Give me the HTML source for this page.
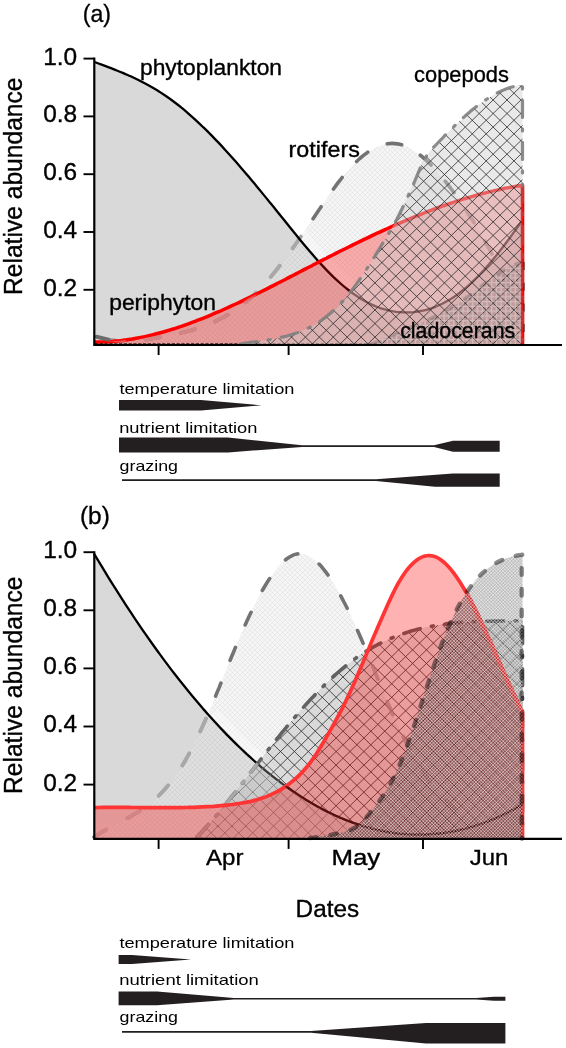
<!DOCTYPE html>
<html><head><meta charset="utf-8"><title>Plankton succession</title>
<style>
html,body{margin:0;padding:0;background:#fff;}
body{width:566px;height:1048px;overflow:hidden;}
svg{display:block;will-change:transform;}
text{font-family:"Liberation Sans",sans-serif;fill:#000;stroke:#000;stroke-width:0.35px;}
.lim text{stroke-width:0;}
</style></head><body>
<svg width="566" height="1048" viewBox="0 0 566 1048">
<defs>
<pattern id="fine" width="20" height="20" patternUnits="userSpaceOnUse"><path d="M-20.00,0 L0.00,20 M-20.00,0 L-40.00,20 M-15.00,0 L5.00,20 M-15.00,0 L-35.00,20 M-10.00,0 L10.00,20 M-10.00,0 L-30.00,20 M-5.00,0 L15.00,20 M-5.00,0 L-25.00,20 M0.00,0 L20.00,20 M0.00,0 L-20.00,20 M5.00,0 L25.00,20 M5.00,0 L-15.00,20 M10.00,0 L30.00,20 M10.00,0 L-10.00,20 M15.00,0 L35.00,20 M15.00,0 L-5.00,20 M20.00,0 L40.00,20 M20.00,0 L0.00,20 M25.00,0 L45.00,20 M25.00,0 L5.00,20 M30.00,0 L50.00,20 M30.00,0 L10.00,20 M35.00,0 L55.00,20 M35.00,0 L15.00,20 M40.00,0 L60.00,20 M40.00,0 L20.00,20" stroke="#000" stroke-opacity="0.045" stroke-width="1" fill="none"/></pattern>
<pattern id="whatch" width="17" height="17" patternUnits="userSpaceOnUse"><path d="M-17.00,0 L0.00,17 M-17.00,0 L-34.00,17 M-13.60,0 L3.40,17 M-13.60,0 L-30.60,17 M-10.20,0 L6.80,17 M-10.20,0 L-27.20,17 M-6.80,0 L10.20,17 M-6.80,0 L-23.80,17 M-3.40,0 L13.60,17 M-3.40,0 L-20.40,17 M0.00,0 L17.00,17 M0.00,0 L-17.00,17 M3.40,0 L20.40,17 M3.40,0 L-13.60,17 M6.80,0 L23.80,17 M6.80,0 L-10.20,17 M10.20,0 L27.20,17 M10.20,0 L-6.80,17 M13.60,0 L30.60,17 M13.60,0 L-3.40,17 M17.00,0 L34.00,17 M17.00,0 L0.00,17 M20.40,0 L37.40,17 M20.40,0 L3.40,17 M23.80,0 L40.80,17 M23.80,0 L6.80,17 M27.20,0 L44.20,17 M27.20,0 L10.20,17 M30.60,0 L47.60,17 M30.60,0 L13.60,17 M34.00,0 L51.00,17 M34.00,0 L17.00,17" stroke="#fff" stroke-opacity="0.55" stroke-width="0.9" fill="none"/></pattern>
<pattern id="wgrid" width="19" height="19" patternUnits="userSpaceOnUse"><path d="M0,2.38 H19 M2.38,0 V19 M0,7.12 H19 M7.12,0 V19 M0,11.88 H19 M11.88,0 V19 M0,16.62 H19 M16.62,0 V19" stroke="#fff" stroke-opacity="0.3" stroke-width="1.4" fill="none"/></pattern>
</defs>
<rect width="566" height="1048" fill="#fff"/>
<!-- panel a -->
<clipPath id="cpa"><path d="M94.4,62.0 C95.6,62.4 99.2,63.7 101.7,64.6 C104.1,65.5 106.5,66.4 108.9,67.3 C111.3,68.2 113.7,69.2 116.2,70.2 C118.6,71.1 121.0,72.1 123.4,73.1 C125.8,74.2 128.3,75.2 130.7,76.3 C133.1,77.5 135.5,78.6 137.9,79.8 C140.4,81.0 142.8,82.2 145.2,83.5 C147.6,84.8 150.0,86.1 152.4,87.5 C154.9,89.0 157.3,90.4 159.7,91.9 C162.1,93.5 164.5,95.1 167.0,96.8 C169.4,98.4 171.8,100.2 174.2,102.0 C176.6,103.8 179.1,105.7 181.5,107.7 C183.9,109.6 186.3,111.7 188.7,113.8 C191.1,115.9 193.6,118.1 196.0,120.3 C198.4,122.5 200.8,124.8 203.2,127.2 C205.7,129.5 208.1,131.9 210.5,134.4 C212.9,136.8 215.3,139.3 217.8,141.9 C220.2,144.4 222.6,147.0 225.0,149.7 C227.4,152.3 229.8,155.0 232.3,157.7 C234.7,160.5 237.1,163.2 239.5,166.0 C241.9,168.8 244.4,171.6 246.8,174.5 C249.2,177.3 251.6,180.2 254.0,183.1 C256.4,186.0 258.9,188.9 261.3,191.9 C263.7,194.8 266.1,197.8 268.5,200.8 C271.0,203.7 273.4,206.7 275.8,209.7 C278.2,212.7 280.6,215.7 283.1,218.7 C285.5,221.7 287.9,224.8 290.3,227.8 C292.7,230.8 295.1,233.8 297.6,236.7 C300.0,239.7 302.4,242.6 304.8,245.5 C307.2,248.4 309.7,251.3 312.1,254.1 C314.5,256.9 316.9,259.6 319.3,262.3 C321.8,265.0 324.2,267.6 326.6,270.1 C329.0,272.6 331.4,275.0 333.8,277.4 C336.3,279.7 338.7,281.9 341.1,284.0 C343.5,286.1 345.9,288.1 348.4,290.0 C350.8,291.9 353.2,293.7 355.6,295.3 C358.0,297.0 360.5,298.6 362.9,300.0 C365.3,301.4 367.7,302.7 370.1,303.9 C372.5,305.1 375.0,306.1 377.4,307.0 C379.8,308.0 382.2,308.8 384.6,309.4 C387.1,310.1 389.5,310.7 391.9,311.1 C394.3,311.5 396.7,311.9 399.1,312.1 C401.6,312.3 404.0,312.4 406.4,312.4 C408.8,312.4 411.2,312.3 413.7,312.1 C416.1,311.8 418.5,311.5 420.9,311.0 C423.3,310.5 425.8,310.0 428.2,309.3 C430.6,308.6 433.0,307.7 435.4,306.8 C437.8,305.8 440.3,304.7 442.7,303.5 C445.1,302.3 447.5,300.9 449.9,299.5 C452.4,298.0 454.8,296.4 457.2,294.6 C459.6,292.8 462.0,290.9 464.5,288.9 C466.9,286.9 469.3,284.7 471.7,282.5 C474.1,280.2 476.5,277.8 479.0,275.3 C481.4,272.7 483.8,270.1 486.2,267.4 C488.6,264.7 491.1,261.8 493.5,258.9 C495.9,256.0 498.3,253.0 500.7,249.9 C503.2,246.8 505.6,243.6 508.0,240.3 C510.4,237.1 512.8,233.8 515.2,230.4 C517.7,227.0 521.3,221.7 522.5,220.0 L522.5,345.0 L94.4,345.0 Z"/></clipPath>
<path d="M94.4,62.0 C95.6,62.4 99.2,63.7 101.7,64.6 C104.1,65.5 106.5,66.4 108.9,67.3 C111.3,68.2 113.7,69.2 116.2,70.2 C118.6,71.1 121.0,72.1 123.4,73.1 C125.8,74.2 128.3,75.2 130.7,76.3 C133.1,77.5 135.5,78.6 137.9,79.8 C140.4,81.0 142.8,82.2 145.2,83.5 C147.6,84.8 150.0,86.1 152.4,87.5 C154.9,89.0 157.3,90.4 159.7,91.9 C162.1,93.5 164.5,95.1 167.0,96.8 C169.4,98.4 171.8,100.2 174.2,102.0 C176.6,103.8 179.1,105.7 181.5,107.7 C183.9,109.6 186.3,111.7 188.7,113.8 C191.1,115.9 193.6,118.1 196.0,120.3 C198.4,122.5 200.8,124.8 203.2,127.2 C205.7,129.5 208.1,131.9 210.5,134.4 C212.9,136.8 215.3,139.3 217.8,141.9 C220.2,144.4 222.6,147.0 225.0,149.7 C227.4,152.3 229.8,155.0 232.3,157.7 C234.7,160.5 237.1,163.2 239.5,166.0 C241.9,168.8 244.4,171.6 246.8,174.5 C249.2,177.3 251.6,180.2 254.0,183.1 C256.4,186.0 258.9,188.9 261.3,191.9 C263.7,194.8 266.1,197.8 268.5,200.8 C271.0,203.7 273.4,206.7 275.8,209.7 C278.2,212.7 280.6,215.7 283.1,218.7 C285.5,221.7 287.9,224.8 290.3,227.8 C292.7,230.8 295.1,233.8 297.6,236.7 C300.0,239.7 302.4,242.6 304.8,245.5 C307.2,248.4 309.7,251.3 312.1,254.1 C314.5,256.9 316.9,259.6 319.3,262.3 C321.8,265.0 324.2,267.6 326.6,270.1 C329.0,272.6 331.4,275.0 333.8,277.4 C336.3,279.7 338.7,281.9 341.1,284.0 C343.5,286.1 345.9,288.1 348.4,290.0 C350.8,291.9 353.2,293.7 355.6,295.3 C358.0,297.0 360.5,298.6 362.9,300.0 C365.3,301.4 367.7,302.7 370.1,303.9 C372.5,305.1 375.0,306.1 377.4,307.0 C379.8,308.0 382.2,308.8 384.6,309.4 C387.1,310.1 389.5,310.7 391.9,311.1 C394.3,311.5 396.7,311.9 399.1,312.1 C401.6,312.3 404.0,312.4 406.4,312.4 C408.8,312.4 411.2,312.3 413.7,312.1 C416.1,311.8 418.5,311.5 420.9,311.0 C423.3,310.5 425.8,310.0 428.2,309.3 C430.6,308.6 433.0,307.7 435.4,306.8 C437.8,305.8 440.3,304.7 442.7,303.5 C445.1,302.3 447.5,300.9 449.9,299.5 C452.4,298.0 454.8,296.4 457.2,294.6 C459.6,292.8 462.0,290.9 464.5,288.9 C466.9,286.9 469.3,284.7 471.7,282.5 C474.1,280.2 476.5,277.8 479.0,275.3 C481.4,272.7 483.8,270.1 486.2,267.4 C488.6,264.7 491.1,261.8 493.5,258.9 C495.9,256.0 498.3,253.0 500.7,249.9 C503.2,246.8 505.6,243.6 508.0,240.3 C510.4,237.1 512.8,233.8 515.2,230.4 C517.7,227.0 521.3,221.7 522.5,220.0 L522.5,345.0 L94.4,345.0 Z" fill="#d9d9d9"/>
<path d="M94.0,336.4 C94.9,336.7 97.6,337.5 99.4,337.9 C101.2,338.3 103.0,338.7 104.8,339.1 C106.7,339.4 108.5,339.7 110.3,339.9 C112.1,340.1 113.9,340.3 115.7,340.5 C117.5,340.6 119.3,340.7 121.1,340.8 C122.9,340.8 124.7,340.8 126.5,340.8 C128.4,340.8 130.2,340.7 132.0,340.6 C133.8,340.6 135.6,340.4 137.4,340.3 C139.2,340.1 141.0,340.0 142.8,339.8 C144.6,339.6 146.4,339.3 148.2,339.1 C150.0,338.8 151.9,338.6 153.7,338.3 C155.5,338.0 157.3,337.7 159.1,337.4 C160.9,337.0 162.7,336.7 164.5,336.4 C166.3,336.0 168.1,335.7 169.9,335.3 C171.7,335.0 173.6,334.6 175.4,334.2 C177.2,333.8 179.0,333.4 180.8,333.0 C182.6,332.6 184.4,332.1 186.2,331.7 C188.0,331.2 189.8,330.7 191.6,330.2 C193.4,329.7 195.2,329.1 197.1,328.5 C198.9,327.9 200.7,327.3 202.5,326.7 C204.3,326.0 206.1,325.3 207.9,324.6 C209.7,323.9 211.5,323.1 213.3,322.3 C215.1,321.5 216.9,320.6 218.8,319.7 C220.6,318.8 222.4,317.9 224.2,316.8 C226.0,315.8 227.8,314.8 229.6,313.7 C231.4,312.5 233.2,311.4 235.0,310.1 C236.8,308.9 238.6,307.6 240.4,306.2 C242.3,304.9 244.1,303.5 245.9,302.0 C247.7,300.5 249.5,298.9 251.3,297.3 C253.1,295.6 254.9,293.9 256.7,292.2 C258.5,290.4 260.3,288.5 262.1,286.6 C264.0,284.7 265.8,282.6 267.6,280.6 C269.4,278.5 271.2,276.4 273.0,274.2 C274.8,272.0 276.6,269.7 278.4,267.4 C280.2,265.1 282.0,262.8 283.8,260.4 C285.6,258.0 287.5,255.5 289.3,253.0 C291.1,250.5 292.9,248.0 294.7,245.5 C296.5,242.9 298.3,240.3 300.1,237.7 C301.9,235.1 303.7,232.5 305.5,229.8 C307.3,227.2 309.2,224.5 311.0,221.8 C312.8,219.1 314.6,216.4 316.4,213.7 C318.2,211.0 320.0,208.3 321.8,205.7 C323.6,203.0 325.4,200.4 327.2,197.8 C329.0,195.2 330.9,192.6 332.7,190.1 C334.5,187.6 336.3,185.1 338.1,182.7 C339.9,180.4 341.7,178.1 343.5,175.8 C345.3,173.6 347.1,171.5 348.9,169.5 C350.7,167.4 352.5,165.5 354.4,163.7 C356.2,161.9 358.0,160.1 359.8,158.5 C361.6,157.0 363.4,155.5 365.2,154.1 C367.0,152.7 368.8,151.5 370.6,150.4 C372.4,149.3 374.2,148.3 376.1,147.4 C377.9,146.5 379.7,145.8 381.5,145.2 C383.3,144.6 385.1,144.2 386.9,143.9 C388.7,143.6 390.5,143.4 392.3,143.4 C394.1,143.4 395.9,143.6 397.7,143.9 C399.6,144.2 401.4,144.7 403.2,145.3 C405.0,145.9 406.8,146.7 408.6,147.6 C410.4,148.5 412.2,149.5 414.0,150.7 C415.8,151.8 417.6,153.1 419.4,154.5 C421.3,155.9 423.1,157.4 424.9,159.1 C426.7,160.7 428.5,162.4 430.3,164.3 C432.1,166.1 433.9,168.0 435.7,170.0 C437.5,172.0 439.3,174.1 441.1,176.2 C442.9,178.4 444.8,180.6 446.6,182.9 C448.4,185.2 450.2,187.6 452.0,190.0 C453.8,192.4 455.6,194.9 457.4,197.5 C459.2,200.0 461.0,202.6 462.8,205.3 C464.6,208.0 466.5,210.7 468.3,213.5 C470.1,216.3 471.9,219.1 473.7,222.0 C475.5,224.9 477.3,227.9 479.1,231.0 C480.9,234.0 482.7,237.1 484.5,240.3 C486.3,243.5 488.1,246.8 490.0,250.2 C491.8,253.6 493.6,257.0 495.4,260.6 C497.2,264.1 499.0,267.8 500.8,271.5 C502.6,275.3 504.4,279.1 506.2,283.1 C508.0,287.1 509.8,291.2 511.7,295.4 C513.5,299.6 515.3,303.9 517.1,308.3 C518.9,312.8 521.6,319.7 522.5,322.0 L522.5,345.0 L94.0,345.0 Z" fill="rgba(231,231,231,0.42)"/>
<path d="M94.0,336.4 C94.9,336.7 97.6,337.5 99.4,337.9 C101.2,338.3 103.0,338.7 104.8,339.1 C106.7,339.4 108.5,339.7 110.3,339.9 C112.1,340.1 113.9,340.3 115.7,340.5 C117.5,340.6 119.3,340.7 121.1,340.8 C122.9,340.8 124.7,340.8 126.5,340.8 C128.4,340.8 130.2,340.7 132.0,340.6 C133.8,340.6 135.6,340.4 137.4,340.3 C139.2,340.1 141.0,340.0 142.8,339.8 C144.6,339.6 146.4,339.3 148.2,339.1 C150.0,338.8 151.9,338.6 153.7,338.3 C155.5,338.0 157.3,337.7 159.1,337.4 C160.9,337.0 162.7,336.7 164.5,336.4 C166.3,336.0 168.1,335.7 169.9,335.3 C171.7,335.0 173.6,334.6 175.4,334.2 C177.2,333.8 179.0,333.4 180.8,333.0 C182.6,332.6 184.4,332.1 186.2,331.7 C188.0,331.2 189.8,330.7 191.6,330.2 C193.4,329.7 195.2,329.1 197.1,328.5 C198.9,327.9 200.7,327.3 202.5,326.7 C204.3,326.0 206.1,325.3 207.9,324.6 C209.7,323.9 211.5,323.1 213.3,322.3 C215.1,321.5 216.9,320.6 218.8,319.7 C220.6,318.8 222.4,317.9 224.2,316.8 C226.0,315.8 227.8,314.8 229.6,313.7 C231.4,312.5 233.2,311.4 235.0,310.1 C236.8,308.9 238.6,307.6 240.4,306.2 C242.3,304.9 244.1,303.5 245.9,302.0 C247.7,300.5 249.5,298.9 251.3,297.3 C253.1,295.6 254.9,293.9 256.7,292.2 C258.5,290.4 260.3,288.5 262.1,286.6 C264.0,284.7 265.8,282.6 267.6,280.6 C269.4,278.5 271.2,276.4 273.0,274.2 C274.8,272.0 276.6,269.7 278.4,267.4 C280.2,265.1 282.0,262.8 283.8,260.4 C285.6,258.0 287.5,255.5 289.3,253.0 C291.1,250.5 292.9,248.0 294.7,245.5 C296.5,242.9 298.3,240.3 300.1,237.7 C301.9,235.1 303.7,232.5 305.5,229.8 C307.3,227.2 309.2,224.5 311.0,221.8 C312.8,219.1 314.6,216.4 316.4,213.7 C318.2,211.0 320.0,208.3 321.8,205.7 C323.6,203.0 325.4,200.4 327.2,197.8 C329.0,195.2 330.9,192.6 332.7,190.1 C334.5,187.6 336.3,185.1 338.1,182.7 C339.9,180.4 341.7,178.1 343.5,175.8 C345.3,173.6 347.1,171.5 348.9,169.5 C350.7,167.4 352.5,165.5 354.4,163.7 C356.2,161.9 358.0,160.1 359.8,158.5 C361.6,157.0 363.4,155.5 365.2,154.1 C367.0,152.7 368.8,151.5 370.6,150.4 C372.4,149.3 374.2,148.3 376.1,147.4 C377.9,146.5 379.7,145.8 381.5,145.2 C383.3,144.6 385.1,144.2 386.9,143.9 C388.7,143.6 390.5,143.4 392.3,143.4 C394.1,143.4 395.9,143.6 397.7,143.9 C399.6,144.2 401.4,144.7 403.2,145.3 C405.0,145.9 406.8,146.7 408.6,147.6 C410.4,148.5 412.2,149.5 414.0,150.7 C415.8,151.8 417.6,153.1 419.4,154.5 C421.3,155.9 423.1,157.4 424.9,159.1 C426.7,160.7 428.5,162.4 430.3,164.3 C432.1,166.1 433.9,168.0 435.7,170.0 C437.5,172.0 439.3,174.1 441.1,176.2 C442.9,178.4 444.8,180.6 446.6,182.9 C448.4,185.2 450.2,187.6 452.0,190.0 C453.8,192.4 455.6,194.9 457.4,197.5 C459.2,200.0 461.0,202.6 462.8,205.3 C464.6,208.0 466.5,210.7 468.3,213.5 C470.1,216.3 471.9,219.1 473.7,222.0 C475.5,224.9 477.3,227.9 479.1,231.0 C480.9,234.0 482.7,237.1 484.5,240.3 C486.3,243.5 488.1,246.8 490.0,250.2 C491.8,253.6 493.6,257.0 495.4,260.6 C497.2,264.1 499.0,267.8 500.8,271.5 C502.6,275.3 504.4,279.1 506.2,283.1 C508.0,287.1 509.8,291.2 511.7,295.4 C513.5,299.6 515.3,303.9 517.1,308.3 C518.9,312.8 521.6,319.7 522.5,322.0 L522.5,345.0 L94.0,345.0 Z" fill="url(#fine)"/>
<path d="M94.0,336.4 C94.9,336.7 97.6,337.5 99.4,337.9 C101.2,338.3 103.0,338.7 104.8,339.1 C106.7,339.4 108.5,339.7 110.3,339.9 C112.1,340.1 113.9,340.3 115.7,340.5 C117.5,340.6 119.3,340.7 121.1,340.8 C122.9,340.8 124.7,340.8 126.5,340.8 C128.4,340.8 130.2,340.7 132.0,340.6 C133.8,340.6 135.6,340.4 137.4,340.3 C139.2,340.1 141.0,340.0 142.8,339.8 C144.6,339.6 146.4,339.3 148.2,339.1 C150.0,338.8 151.9,338.6 153.7,338.3 C155.5,338.0 157.3,337.7 159.1,337.4 C160.9,337.0 162.7,336.7 164.5,336.4 C166.3,336.0 168.1,335.7 169.9,335.3 C171.7,335.0 173.6,334.6 175.4,334.2 C177.2,333.8 179.0,333.4 180.8,333.0 C182.6,332.6 184.4,332.1 186.2,331.7 C188.0,331.2 189.8,330.7 191.6,330.2 C193.4,329.7 195.2,329.1 197.1,328.5 C198.9,327.9 200.7,327.3 202.5,326.7 C204.3,326.0 206.1,325.3 207.9,324.6 C209.7,323.9 211.5,323.1 213.3,322.3 C215.1,321.5 216.9,320.6 218.8,319.7 C220.6,318.8 222.4,317.9 224.2,316.8 C226.0,315.8 227.8,314.8 229.6,313.7 C231.4,312.5 233.2,311.4 235.0,310.1 C236.8,308.9 238.6,307.6 240.4,306.2 C242.3,304.9 244.1,303.5 245.9,302.0 C247.7,300.5 249.5,298.9 251.3,297.3 C253.1,295.6 254.9,293.9 256.7,292.2 C258.5,290.4 260.3,288.5 262.1,286.6 C264.0,284.7 265.8,282.6 267.6,280.6 C269.4,278.5 271.2,276.4 273.0,274.2 C274.8,272.0 276.6,269.7 278.4,267.4 C280.2,265.1 282.0,262.8 283.8,260.4 C285.6,258.0 287.5,255.5 289.3,253.0 C291.1,250.5 292.9,248.0 294.7,245.5 C296.5,242.9 298.3,240.3 300.1,237.7 C301.9,235.1 303.7,232.5 305.5,229.8 C307.3,227.2 309.2,224.5 311.0,221.8 C312.8,219.1 314.6,216.4 316.4,213.7 C318.2,211.0 320.0,208.3 321.8,205.7 C323.6,203.0 325.4,200.4 327.2,197.8 C329.0,195.2 330.9,192.6 332.7,190.1 C334.5,187.6 336.3,185.1 338.1,182.7 C339.9,180.4 341.7,178.1 343.5,175.8 C345.3,173.6 347.1,171.5 348.9,169.5 C350.7,167.4 352.5,165.5 354.4,163.7 C356.2,161.9 358.0,160.1 359.8,158.5 C361.6,157.0 363.4,155.5 365.2,154.1 C367.0,152.7 368.8,151.5 370.6,150.4 C372.4,149.3 374.2,148.3 376.1,147.4 C377.9,146.5 379.7,145.8 381.5,145.2 C383.3,144.6 385.1,144.2 386.9,143.9 C388.7,143.6 390.5,143.4 392.3,143.4 C394.1,143.4 395.9,143.6 397.7,143.9 C399.6,144.2 401.4,144.7 403.2,145.3 C405.0,145.9 406.8,146.7 408.6,147.6 C410.4,148.5 412.2,149.5 414.0,150.7 C415.8,151.8 417.6,153.1 419.4,154.5 C421.3,155.9 423.1,157.4 424.9,159.1 C426.7,160.7 428.5,162.4 430.3,164.3 C432.1,166.1 433.9,168.0 435.7,170.0 C437.5,172.0 439.3,174.1 441.1,176.2 C442.9,178.4 444.8,180.6 446.6,182.9 C448.4,185.2 450.2,187.6 452.0,190.0 C453.8,192.4 455.6,194.9 457.4,197.5 C459.2,200.0 461.0,202.6 462.8,205.3 C464.6,208.0 466.5,210.7 468.3,213.5 C470.1,216.3 471.9,219.1 473.7,222.0 C475.5,224.9 477.3,227.9 479.1,231.0 C480.9,234.0 482.7,237.1 484.5,240.3 C486.3,243.5 488.1,246.8 490.0,250.2 C491.8,253.6 493.6,257.0 495.4,260.6 C497.2,264.1 499.0,267.8 500.8,271.5 C502.6,275.3 504.4,279.1 506.2,283.1 C508.0,287.1 509.8,291.2 511.7,295.4 C513.5,299.6 515.3,303.9 517.1,308.3 C518.9,312.8 521.6,319.7 522.5,322.0" fill="none" stroke="#737373" stroke-width="3.6" stroke-dasharray="14.5 21.5" stroke-dashoffset="20" stroke-linecap="round"/>
<g clip-path="url(#cpa)"><path d="M94.0,336.4 C94.9,336.7 97.6,337.5 99.4,337.9 C101.2,338.3 103.0,338.7 104.8,339.1 C106.7,339.4 108.5,339.7 110.3,339.9 C112.1,340.1 113.9,340.3 115.7,340.5 C117.5,340.6 119.3,340.7 121.1,340.8 C122.9,340.8 124.7,340.8 126.5,340.8 C128.4,340.8 130.2,340.7 132.0,340.6 C133.8,340.6 135.6,340.4 137.4,340.3 C139.2,340.1 141.0,340.0 142.8,339.8 C144.6,339.6 146.4,339.3 148.2,339.1 C150.0,338.8 151.9,338.6 153.7,338.3 C155.5,338.0 157.3,337.7 159.1,337.4 C160.9,337.0 162.7,336.7 164.5,336.4 C166.3,336.0 168.1,335.7 169.9,335.3 C171.7,335.0 173.6,334.6 175.4,334.2 C177.2,333.8 179.0,333.4 180.8,333.0 C182.6,332.6 184.4,332.1 186.2,331.7 C188.0,331.2 189.8,330.7 191.6,330.2 C193.4,329.7 195.2,329.1 197.1,328.5 C198.9,327.9 200.7,327.3 202.5,326.7 C204.3,326.0 206.1,325.3 207.9,324.6 C209.7,323.9 211.5,323.1 213.3,322.3 C215.1,321.5 216.9,320.6 218.8,319.7 C220.6,318.8 222.4,317.9 224.2,316.8 C226.0,315.8 227.8,314.8 229.6,313.7 C231.4,312.5 233.2,311.4 235.0,310.1 C236.8,308.9 238.6,307.6 240.4,306.2 C242.3,304.9 244.1,303.5 245.9,302.0 C247.7,300.5 249.5,298.9 251.3,297.3 C253.1,295.6 254.9,293.9 256.7,292.2 C258.5,290.4 260.3,288.5 262.1,286.6 C264.0,284.7 265.8,282.6 267.6,280.6 C269.4,278.5 271.2,276.4 273.0,274.2 C274.8,272.0 276.6,269.7 278.4,267.4 C280.2,265.1 282.0,262.8 283.8,260.4 C285.6,258.0 287.5,255.5 289.3,253.0 C291.1,250.5 292.9,248.0 294.7,245.5 C296.5,242.9 298.3,240.3 300.1,237.7 C301.9,235.1 303.7,232.5 305.5,229.8 C307.3,227.2 309.2,224.5 311.0,221.8 C312.8,219.1 314.6,216.4 316.4,213.7 C318.2,211.0 320.0,208.3 321.8,205.7 C323.6,203.0 325.4,200.4 327.2,197.8 C329.0,195.2 330.9,192.6 332.7,190.1 C334.5,187.6 336.3,185.1 338.1,182.7 C339.9,180.4 341.7,178.1 343.5,175.8 C345.3,173.6 347.1,171.5 348.9,169.5 C350.7,167.4 352.5,165.5 354.4,163.7 C356.2,161.9 358.0,160.1 359.8,158.5 C361.6,157.0 363.4,155.5 365.2,154.1 C367.0,152.7 368.8,151.5 370.6,150.4 C372.4,149.3 374.2,148.3 376.1,147.4 C377.9,146.5 379.7,145.8 381.5,145.2 C383.3,144.6 385.1,144.2 386.9,143.9 C388.7,143.6 390.5,143.4 392.3,143.4 C394.1,143.4 395.9,143.6 397.7,143.9 C399.6,144.2 401.4,144.7 403.2,145.3 C405.0,145.9 406.8,146.7 408.6,147.6 C410.4,148.5 412.2,149.5 414.0,150.7 C415.8,151.8 417.6,153.1 419.4,154.5 C421.3,155.9 423.1,157.4 424.9,159.1 C426.7,160.7 428.5,162.4 430.3,164.3 C432.1,166.1 433.9,168.0 435.7,170.0 C437.5,172.0 439.3,174.1 441.1,176.2 C442.9,178.4 444.8,180.6 446.6,182.9 C448.4,185.2 450.2,187.6 452.0,190.0 C453.8,192.4 455.6,194.9 457.4,197.5 C459.2,200.0 461.0,202.6 462.8,205.3 C464.6,208.0 466.5,210.7 468.3,213.5 C470.1,216.3 471.9,219.1 473.7,222.0 C475.5,224.9 477.3,227.9 479.1,231.0 C480.9,234.0 482.7,237.1 484.5,240.3 C486.3,243.5 488.1,246.8 490.0,250.2 C491.8,253.6 493.6,257.0 495.4,260.6 C497.2,264.1 499.0,267.8 500.8,271.5 C502.6,275.3 504.4,279.1 506.2,283.1 C508.0,287.1 509.8,291.2 511.7,295.4 C513.5,299.6 515.3,303.9 517.1,308.3 C518.9,312.8 521.6,319.7 522.5,322.0" fill="none" stroke="#d4d4d4" stroke-opacity="0.55" stroke-width="3.6" stroke-dasharray="14.5 21.5" stroke-dashoffset="20" stroke-linecap="round"/></g>
<path d="M268.5,200.8 C269.8,202.3 273.4,206.7 275.8,209.7 C278.2,212.7 280.6,215.7 283.1,218.7 C285.5,221.7 287.9,224.8 290.3,227.8 C292.7,230.8 295.1,233.8 297.6,236.7 C300.0,239.7 302.4,242.6 304.8,245.5 C307.2,248.4 309.7,251.3 312.1,254.1 C314.5,256.9 316.9,259.6 319.3,262.3 C321.8,265.0 324.2,267.6 326.6,270.1 C329.0,272.6 331.4,275.0 333.8,277.4 C336.3,279.7 338.7,281.9 341.1,284.0 C343.5,286.1 345.9,288.1 348.4,290.0 C350.8,291.9 353.2,293.7 355.6,295.3 C358.0,297.0 360.5,298.6 362.9,300.0 C365.3,301.4 367.7,302.7 370.1,303.9 C372.5,305.1 375.0,306.1 377.4,307.0 C379.8,308.0 382.2,308.8 384.6,309.4 C387.1,310.1 389.5,310.7 391.9,311.1 C394.3,311.5 397.9,311.9 399.1,312.1" fill="none" stroke="#fff" stroke-opacity="0.33" stroke-width="11" transform="translate(3.5 -3.5)"/>
<path d="M94.4,62.0 C95.6,62.4 99.2,63.7 101.7,64.6 C104.1,65.5 106.5,66.4 108.9,67.3 C111.3,68.2 113.7,69.2 116.2,70.2 C118.6,71.1 121.0,72.1 123.4,73.1 C125.8,74.2 128.3,75.2 130.7,76.3 C133.1,77.5 135.5,78.6 137.9,79.8 C140.4,81.0 142.8,82.2 145.2,83.5 C147.6,84.8 150.0,86.1 152.4,87.5 C154.9,89.0 157.3,90.4 159.7,91.9 C162.1,93.5 164.5,95.1 167.0,96.8 C169.4,98.4 171.8,100.2 174.2,102.0 C176.6,103.8 179.1,105.7 181.5,107.7 C183.9,109.6 186.3,111.7 188.7,113.8 C191.1,115.9 193.6,118.1 196.0,120.3 C198.4,122.5 200.8,124.8 203.2,127.2 C205.7,129.5 208.1,131.9 210.5,134.4 C212.9,136.8 215.3,139.3 217.8,141.9 C220.2,144.4 222.6,147.0 225.0,149.7 C227.4,152.3 229.8,155.0 232.3,157.7 C234.7,160.5 237.1,163.2 239.5,166.0 C241.9,168.8 244.4,171.6 246.8,174.5 C249.2,177.3 251.6,180.2 254.0,183.1 C256.4,186.0 258.9,188.9 261.3,191.9 C263.7,194.8 266.1,197.8 268.5,200.8 C271.0,203.7 273.4,206.7 275.8,209.7 C278.2,212.7 280.6,215.7 283.1,218.7 C285.5,221.7 287.9,224.8 290.3,227.8 C292.7,230.8 295.1,233.8 297.6,236.7 C300.0,239.7 302.4,242.6 304.8,245.5 C307.2,248.4 309.7,251.3 312.1,254.1 C314.5,256.9 316.9,259.6 319.3,262.3 C321.8,265.0 324.2,267.6 326.6,270.1 C329.0,272.6 331.4,275.0 333.8,277.4 C336.3,279.7 338.7,281.9 341.1,284.0 C343.5,286.1 345.9,288.1 348.4,290.0 C350.8,291.9 353.2,293.7 355.6,295.3 C358.0,297.0 360.5,298.6 362.9,300.0 C365.3,301.4 367.7,302.7 370.1,303.9 C372.5,305.1 375.0,306.1 377.4,307.0 C379.8,308.0 382.2,308.8 384.6,309.4 C387.1,310.1 389.5,310.7 391.9,311.1 C394.3,311.5 396.7,311.9 399.1,312.1 C401.6,312.3 404.0,312.4 406.4,312.4 C408.8,312.4 411.2,312.3 413.7,312.1 C416.1,311.8 418.5,311.5 420.9,311.0 C423.3,310.5 425.8,310.0 428.2,309.3 C430.6,308.6 433.0,307.7 435.4,306.8 C437.8,305.8 440.3,304.7 442.7,303.5 C445.1,302.3 447.5,300.9 449.9,299.5 C452.4,298.0 454.8,296.4 457.2,294.6 C459.6,292.8 462.0,290.9 464.5,288.9 C466.9,286.9 469.3,284.7 471.7,282.5 C474.1,280.2 476.5,277.8 479.0,275.3 C481.4,272.7 483.8,270.1 486.2,267.4 C488.6,264.7 491.1,261.8 493.5,258.9 C495.9,256.0 498.3,253.0 500.7,249.9 C503.2,246.8 505.6,243.6 508.0,240.3 C510.4,237.1 512.8,233.8 515.2,230.4 C517.7,227.0 521.3,221.7 522.5,220.0" fill="none" stroke="#000" stroke-width="2.3"/>
<path d="M94.0,342.0 C95.2,342.0 98.8,342.0 101.3,342.0 C103.7,341.9 106.1,341.8 108.5,341.7 C110.9,341.5 113.4,341.3 115.8,341.1 C118.2,340.9 120.6,340.6 123.1,340.3 C125.5,340.0 127.9,339.7 130.3,339.3 C132.7,338.9 135.2,338.5 137.6,338.0 C140.0,337.6 142.4,337.1 144.8,336.6 C147.3,336.1 149.7,335.5 152.1,334.9 C154.5,334.3 156.9,333.7 159.4,333.0 C161.8,332.4 164.2,331.7 166.6,331.0 C169.0,330.3 171.5,329.5 173.9,328.8 C176.3,328.0 178.7,327.2 181.2,326.4 C183.6,325.5 186.0,324.7 188.4,323.8 C190.8,322.9 193.3,322.0 195.7,321.1 C198.1,320.2 200.5,319.2 202.9,318.3 C205.4,317.3 207.8,316.3 210.2,315.3 C212.6,314.3 215.0,313.3 217.5,312.2 C219.9,311.2 222.3,310.1 224.7,309.0 C227.1,307.9 229.6,306.8 232.0,305.7 C234.4,304.6 236.8,303.5 239.3,302.4 C241.7,301.2 244.1,300.1 246.5,298.9 C248.9,297.7 251.4,296.5 253.8,295.3 C256.2,294.2 258.6,293.0 261.0,291.8 C263.5,290.5 265.9,289.3 268.3,288.1 C270.7,286.9 273.1,285.6 275.6,284.4 C278.0,283.2 280.4,281.9 282.8,280.7 C285.3,279.4 287.7,278.2 290.1,276.9 C292.5,275.7 294.9,274.4 297.4,273.2 C299.8,271.9 302.2,270.7 304.6,269.4 C307.0,268.2 309.5,266.9 311.9,265.7 C314.3,264.4 316.7,263.2 319.1,261.9 C321.6,260.7 324.0,259.4 326.4,258.2 C328.8,256.9 331.2,255.7 333.7,254.5 C336.1,253.3 338.5,252.0 340.9,250.8 C343.4,249.6 345.8,248.4 348.2,247.2 C350.6,246.0 353.0,244.8 355.5,243.6 C357.9,242.4 360.3,241.3 362.7,240.1 C365.1,238.9 367.6,237.8 370.0,236.6 C372.4,235.5 374.8,234.3 377.2,233.2 C379.7,232.1 382.1,231.0 384.5,229.9 C386.9,228.8 389.4,227.7 391.8,226.6 C394.2,225.5 396.6,224.4 399.0,223.4 C401.5,222.3 403.9,221.3 406.3,220.3 C408.7,219.2 411.1,218.2 413.6,217.2 C416.0,216.2 418.4,215.2 420.8,214.3 C423.2,213.3 425.7,212.3 428.1,211.4 C430.5,210.5 432.9,209.6 435.3,208.7 C437.8,207.8 440.2,206.9 442.6,206.0 C445.0,205.1 447.5,204.3 449.9,203.5 C452.3,202.6 454.7,201.8 457.1,201.1 C459.6,200.3 462.0,199.5 464.4,198.7 C466.8,198.0 469.2,197.3 471.7,196.6 C474.1,195.9 476.5,195.2 478.9,194.5 C481.3,193.9 483.8,193.2 486.2,192.6 C488.6,192.0 491.0,191.4 493.4,190.9 C495.9,190.3 498.3,189.8 500.7,189.2 C503.1,188.7 505.6,188.2 508.0,187.8 C510.4,187.3 512.8,186.9 515.2,186.5 C517.7,186.1 521.3,185.5 522.5,185.3 L522.5,345.0 L94.0,345.0 Z" fill="rgba(255,0,0,0.30)"/>
<path d="M94.0,342.0 C95.2,342.0 98.8,342.0 101.3,342.0 C103.7,341.9 106.1,341.8 108.5,341.7 C110.9,341.5 113.4,341.3 115.8,341.1 C118.2,340.9 120.6,340.6 123.1,340.3 C125.5,340.0 127.9,339.7 130.3,339.3 C132.7,338.9 135.2,338.5 137.6,338.0 C140.0,337.6 142.4,337.1 144.8,336.6 C147.3,336.1 149.7,335.5 152.1,334.9 C154.5,334.3 156.9,333.7 159.4,333.0 C161.8,332.4 164.2,331.7 166.6,331.0 C169.0,330.3 171.5,329.5 173.9,328.8 C176.3,328.0 178.7,327.2 181.2,326.4 C183.6,325.5 186.0,324.7 188.4,323.8 C190.8,322.9 193.3,322.0 195.7,321.1 C198.1,320.2 200.5,319.2 202.9,318.3 C205.4,317.3 207.8,316.3 210.2,315.3 C212.6,314.3 215.0,313.3 217.5,312.2 C219.9,311.2 222.3,310.1 224.7,309.0 C227.1,307.9 229.6,306.8 232.0,305.7 C234.4,304.6 236.8,303.5 239.3,302.4 C241.7,301.2 244.1,300.1 246.5,298.9 C248.9,297.7 251.4,296.5 253.8,295.3 C256.2,294.2 258.6,293.0 261.0,291.8 C263.5,290.5 265.9,289.3 268.3,288.1 C270.7,286.9 273.1,285.6 275.6,284.4 C278.0,283.2 280.4,281.9 282.8,280.7 C285.3,279.4 287.7,278.2 290.1,276.9 C292.5,275.7 294.9,274.4 297.4,273.2 C299.8,271.9 302.2,270.7 304.6,269.4 C307.0,268.2 309.5,266.9 311.9,265.7 C314.3,264.4 316.7,263.2 319.1,261.9 C321.6,260.7 324.0,259.4 326.4,258.2 C328.8,256.9 331.2,255.7 333.7,254.5 C336.1,253.3 338.5,252.0 340.9,250.8 C343.4,249.6 345.8,248.4 348.2,247.2 C350.6,246.0 353.0,244.8 355.5,243.6 C357.9,242.4 360.3,241.3 362.7,240.1 C365.1,238.9 367.6,237.8 370.0,236.6 C372.4,235.5 374.8,234.3 377.2,233.2 C379.7,232.1 382.1,231.0 384.5,229.9 C386.9,228.8 389.4,227.7 391.8,226.6 C394.2,225.5 396.6,224.4 399.0,223.4 C401.5,222.3 403.9,221.3 406.3,220.3 C408.7,219.2 411.1,218.2 413.6,217.2 C416.0,216.2 418.4,215.2 420.8,214.3 C423.2,213.3 425.7,212.3 428.1,211.4 C430.5,210.5 432.9,209.6 435.3,208.7 C437.8,207.8 440.2,206.9 442.6,206.0 C445.0,205.1 447.5,204.3 449.9,203.5 C452.3,202.6 454.7,201.8 457.1,201.1 C459.6,200.3 462.0,199.5 464.4,198.7 C466.8,198.0 469.2,197.3 471.7,196.6 C474.1,195.9 476.5,195.2 478.9,194.5 C481.3,193.9 483.8,193.2 486.2,192.6 C488.6,192.0 491.0,191.4 493.4,190.9 C495.9,190.3 498.3,189.8 500.7,189.2 C503.1,188.7 505.6,188.2 508.0,187.8 C510.4,187.3 512.8,186.9 515.2,186.5 C517.7,186.1 521.3,185.5 522.5,185.3 L522.5,345.0" fill="none" stroke="#ff0000" stroke-width="3.5" stroke-linejoin="round"/>
<clipPath id="cra"><path d="M94.0,342.0 C95.2,342.0 98.8,342.0 101.3,342.0 C103.7,341.9 106.1,341.8 108.5,341.7 C110.9,341.5 113.4,341.3 115.8,341.1 C118.2,340.9 120.6,340.6 123.1,340.3 C125.5,340.0 127.9,339.7 130.3,339.3 C132.7,338.9 135.2,338.5 137.6,338.0 C140.0,337.6 142.4,337.1 144.8,336.6 C147.3,336.1 149.7,335.5 152.1,334.9 C154.5,334.3 156.9,333.7 159.4,333.0 C161.8,332.4 164.2,331.7 166.6,331.0 C169.0,330.3 171.5,329.5 173.9,328.8 C176.3,328.0 178.7,327.2 181.2,326.4 C183.6,325.5 186.0,324.7 188.4,323.8 C190.8,322.9 193.3,322.0 195.7,321.1 C198.1,320.2 200.5,319.2 202.9,318.3 C205.4,317.3 207.8,316.3 210.2,315.3 C212.6,314.3 215.0,313.3 217.5,312.2 C219.9,311.2 222.3,310.1 224.7,309.0 C227.1,307.9 229.6,306.8 232.0,305.7 C234.4,304.6 236.8,303.5 239.3,302.4 C241.7,301.2 244.1,300.1 246.5,298.9 C248.9,297.7 251.4,296.5 253.8,295.3 C256.2,294.2 258.6,293.0 261.0,291.8 C263.5,290.5 265.9,289.3 268.3,288.1 C270.7,286.9 273.1,285.6 275.6,284.4 C278.0,283.2 280.4,281.9 282.8,280.7 C285.3,279.4 287.7,278.2 290.1,276.9 C292.5,275.7 294.9,274.4 297.4,273.2 C299.8,271.9 302.2,270.7 304.6,269.4 C307.0,268.2 309.5,266.9 311.9,265.7 C314.3,264.4 316.7,263.2 319.1,261.9 C321.6,260.7 324.0,259.4 326.4,258.2 C328.8,256.9 331.2,255.7 333.7,254.5 C336.1,253.3 338.5,252.0 340.9,250.8 C343.4,249.6 345.8,248.4 348.2,247.2 C350.6,246.0 353.0,244.8 355.5,243.6 C357.9,242.4 360.3,241.3 362.7,240.1 C365.1,238.9 367.6,237.8 370.0,236.6 C372.4,235.5 374.8,234.3 377.2,233.2 C379.7,232.1 382.1,231.0 384.5,229.9 C386.9,228.8 389.4,227.7 391.8,226.6 C394.2,225.5 396.6,224.4 399.0,223.4 C401.5,222.3 403.9,221.3 406.3,220.3 C408.7,219.2 411.1,218.2 413.6,217.2 C416.0,216.2 418.4,215.2 420.8,214.3 C423.2,213.3 425.7,212.3 428.1,211.4 C430.5,210.5 432.9,209.6 435.3,208.7 C437.8,207.8 440.2,206.9 442.6,206.0 C445.0,205.1 447.5,204.3 449.9,203.5 C452.3,202.6 454.7,201.8 457.1,201.1 C459.6,200.3 462.0,199.5 464.4,198.7 C466.8,198.0 469.2,197.3 471.7,196.6 C474.1,195.9 476.5,195.2 478.9,194.5 C481.3,193.9 483.8,193.2 486.2,192.6 C488.6,192.0 491.0,191.4 493.4,190.9 C495.9,190.3 498.3,189.8 500.7,189.2 C503.1,188.7 505.6,188.2 508.0,187.8 C510.4,187.3 512.8,186.9 515.2,186.5 C517.7,186.1 521.3,185.5 522.5,185.3 L522.5,345.0 L94.0,345.0 Z"/></clipPath>
<g clip-path="url(#cra)"><path d="M94.0,336.4 C94.9,336.7 97.6,337.5 99.4,337.9 C101.2,338.3 103.0,338.7 104.8,339.1 C106.7,339.4 108.5,339.7 110.3,339.9 C112.1,340.1 113.9,340.3 115.7,340.5 C117.5,340.6 119.3,340.7 121.1,340.8 C122.9,340.8 124.7,340.8 126.5,340.8 C128.4,340.8 130.2,340.7 132.0,340.6 C133.8,340.6 135.6,340.4 137.4,340.3 C139.2,340.1 141.0,340.0 142.8,339.8 C144.6,339.6 146.4,339.3 148.2,339.1 C150.0,338.8 151.9,338.6 153.7,338.3 C155.5,338.0 157.3,337.7 159.1,337.4 C160.9,337.0 162.7,336.7 164.5,336.4 C166.3,336.0 168.1,335.7 169.9,335.3 C171.7,335.0 173.6,334.6 175.4,334.2 C177.2,333.8 179.0,333.4 180.8,333.0 C182.6,332.6 184.4,332.1 186.2,331.7 C188.0,331.2 189.8,330.7 191.6,330.2 C193.4,329.7 195.2,329.1 197.1,328.5 C198.9,327.9 200.7,327.3 202.5,326.7 C204.3,326.0 206.1,325.3 207.9,324.6 C209.7,323.9 211.5,323.1 213.3,322.3 C215.1,321.5 216.9,320.6 218.8,319.7 C220.6,318.8 222.4,317.9 224.2,316.8 C226.0,315.8 227.8,314.8 229.6,313.7 C231.4,312.5 233.2,311.4 235.0,310.1 C236.8,308.9 238.6,307.6 240.4,306.2 C242.3,304.9 244.1,303.5 245.9,302.0 C247.7,300.5 249.5,298.9 251.3,297.3 C253.1,295.6 254.9,293.9 256.7,292.2 C258.5,290.4 260.3,288.5 262.1,286.6 C264.0,284.7 265.8,282.6 267.6,280.6 C269.4,278.5 271.2,276.4 273.0,274.2 C274.8,272.0 276.6,269.7 278.4,267.4 C280.2,265.1 282.0,262.8 283.8,260.4 C285.6,258.0 287.5,255.5 289.3,253.0 C291.1,250.5 292.9,248.0 294.7,245.5 C296.5,242.9 298.3,240.3 300.1,237.7 C301.9,235.1 303.7,232.5 305.5,229.8 C307.3,227.2 309.2,224.5 311.0,221.8 C312.8,219.1 314.6,216.4 316.4,213.7 C318.2,211.0 320.0,208.3 321.8,205.7 C323.6,203.0 325.4,200.4 327.2,197.8 C329.0,195.2 330.9,192.6 332.7,190.1 C334.5,187.6 336.3,185.1 338.1,182.7 C339.9,180.4 341.7,178.1 343.5,175.8 C345.3,173.6 347.1,171.5 348.9,169.5 C350.7,167.4 352.5,165.5 354.4,163.7 C356.2,161.9 358.0,160.1 359.8,158.5 C361.6,157.0 363.4,155.5 365.2,154.1 C367.0,152.7 368.8,151.5 370.6,150.4 C372.4,149.3 374.2,148.3 376.1,147.4 C377.9,146.5 379.7,145.8 381.5,145.2 C383.3,144.6 385.1,144.2 386.9,143.9 C388.7,143.6 390.5,143.4 392.3,143.4 C394.1,143.4 395.9,143.6 397.7,143.9 C399.6,144.2 401.4,144.7 403.2,145.3 C405.0,145.9 406.8,146.7 408.6,147.6 C410.4,148.5 412.2,149.5 414.0,150.7 C415.8,151.8 417.6,153.1 419.4,154.5 C421.3,155.9 423.1,157.4 424.9,159.1 C426.7,160.7 428.5,162.4 430.3,164.3 C432.1,166.1 433.9,168.0 435.7,170.0 C437.5,172.0 439.3,174.1 441.1,176.2 C442.9,178.4 444.8,180.6 446.6,182.9 C448.4,185.2 450.2,187.6 452.0,190.0 C453.8,192.4 455.6,194.9 457.4,197.5 C459.2,200.0 461.0,202.6 462.8,205.3 C464.6,208.0 466.5,210.7 468.3,213.5 C470.1,216.3 471.9,219.1 473.7,222.0 C475.5,224.9 477.3,227.9 479.1,231.0 C480.9,234.0 482.7,237.1 484.5,240.3 C486.3,243.5 488.1,246.8 490.0,250.2 C491.8,253.6 493.6,257.0 495.4,260.6 C497.2,264.1 499.0,267.8 500.8,271.5 C502.6,275.3 504.4,279.1 506.2,283.1 C508.0,287.1 509.8,291.2 511.7,295.4 C513.5,299.6 515.3,303.9 517.1,308.3 C518.9,312.8 521.6,319.7 522.5,322.0" fill="none" stroke="#e29696" stroke-opacity="0.5" stroke-width="3.6" stroke-dasharray="14.5 21.5" stroke-dashoffset="20" stroke-linecap="round"/></g>
<path d="M96.5,336.8 L108.5,339.6" stroke="#6c6c6c" stroke-width="4" stroke-linecap="round"/>
<path d="M95,343.6 H378" stroke="#000" stroke-opacity="0.75" stroke-width="0.9" stroke-dasharray="3.2 1.6"/>
<path d="M240.0,344.0 C240.8,343.9 243.2,343.5 244.8,343.2 C246.4,343.0 248.0,342.8 249.6,342.5 C251.2,342.3 252.8,342.1 254.4,341.9 C256.0,341.6 257.6,341.4 259.2,341.2 C260.7,341.0 262.3,340.7 263.9,340.5 C265.5,340.3 267.1,340.0 268.7,339.8 C270.3,339.5 271.9,339.2 273.5,338.9 C275.1,338.6 276.7,338.3 278.3,338.0 C279.9,337.7 281.5,337.3 283.1,336.9 C284.7,336.6 286.3,336.2 287.9,335.7 C289.5,335.3 291.1,334.8 292.7,334.3 C294.3,333.8 295.9,333.2 297.5,332.7 C299.1,332.1 300.6,331.4 302.2,330.8 C303.8,330.1 305.4,329.4 307.0,328.6 C308.6,327.9 310.2,327.0 311.8,326.2 C313.4,325.3 315.0,324.4 316.6,323.4 C318.2,322.4 319.8,321.4 321.4,320.2 C323.0,319.1 324.6,318.0 326.2,316.7 C327.8,315.5 329.4,314.2 331.0,312.8 C332.6,311.4 334.2,310.0 335.8,308.4 C337.4,306.9 339.0,305.3 340.6,303.6 C342.1,301.9 343.7,300.1 345.3,298.3 C346.9,296.4 348.5,294.5 350.1,292.4 C351.7,290.4 353.3,288.3 354.9,286.1 C356.5,284.0 358.1,281.7 359.7,279.4 C361.3,277.1 362.9,274.7 364.5,272.3 C366.1,269.9 367.7,267.5 369.3,265.0 C370.9,262.5 372.5,260.0 374.1,257.4 C375.7,254.9 377.3,252.3 378.9,249.7 C380.5,247.1 382.0,244.5 383.6,241.9 C385.2,239.3 386.8,236.7 388.4,234.0 C390.0,231.3 391.6,228.6 393.2,225.8 C394.8,222.9 396.4,220.0 398.0,217.0 C399.6,213.9 401.2,210.7 402.8,207.3 C404.4,204.0 406.0,200.5 407.6,197.0 C409.2,193.5 410.8,190.1 412.4,186.5 C414.0,182.9 415.6,179.1 417.2,175.4 C418.8,171.6 420.4,167.4 421.9,164.1 C423.5,160.8 425.1,158.0 426.7,155.6 C428.3,153.1 429.9,151.4 431.5,149.6 C433.1,147.7 434.7,146.2 436.3,144.5 C437.9,142.8 439.5,141.2 441.1,139.5 C442.7,137.8 444.3,136.2 445.9,134.5 C447.5,132.9 449.1,131.3 450.7,129.7 C452.3,128.1 453.9,126.5 455.5,125.0 C457.1,123.4 458.7,121.9 460.3,120.4 C461.9,118.9 463.4,117.5 465.0,116.1 C466.6,114.6 468.2,113.2 469.8,111.9 C471.4,110.6 473.0,109.2 474.6,108.0 C476.2,106.7 477.8,105.5 479.4,104.3 C481.0,103.1 482.6,101.9 484.2,100.8 C485.8,99.8 487.4,98.7 489.0,97.7 C490.6,96.7 492.2,95.7 493.8,94.8 C495.4,93.9 497.0,93.1 498.6,92.3 C500.2,91.5 501.8,90.8 503.3,90.1 C504.9,89.4 506.5,88.8 508.1,88.2 C509.7,87.7 511.3,87.2 512.9,86.8 C514.5,86.3 516.1,86.0 517.7,85.7 C519.3,85.4 521.7,85.1 522.5,85.0 L522.5,345.0 L240.0,345.0 Z" fill="rgba(208,208,208,0.46)"/>
<clipPath id="cca"><path d="M240.0,344.0 C240.8,343.9 243.2,343.5 244.8,343.2 C246.4,343.0 248.0,342.8 249.6,342.5 C251.2,342.3 252.8,342.1 254.4,341.9 C256.0,341.6 257.6,341.4 259.2,341.2 C260.7,341.0 262.3,340.7 263.9,340.5 C265.5,340.3 267.1,340.0 268.7,339.8 C270.3,339.5 271.9,339.2 273.5,338.9 C275.1,338.6 276.7,338.3 278.3,338.0 C279.9,337.7 281.5,337.3 283.1,336.9 C284.7,336.6 286.3,336.2 287.9,335.7 C289.5,335.3 291.1,334.8 292.7,334.3 C294.3,333.8 295.9,333.2 297.5,332.7 C299.1,332.1 300.6,331.4 302.2,330.8 C303.8,330.1 305.4,329.4 307.0,328.6 C308.6,327.9 310.2,327.0 311.8,326.2 C313.4,325.3 315.0,324.4 316.6,323.4 C318.2,322.4 319.8,321.4 321.4,320.2 C323.0,319.1 324.6,318.0 326.2,316.7 C327.8,315.5 329.4,314.2 331.0,312.8 C332.6,311.4 334.2,310.0 335.8,308.4 C337.4,306.9 339.0,305.3 340.6,303.6 C342.1,301.9 343.7,300.1 345.3,298.3 C346.9,296.4 348.5,294.5 350.1,292.4 C351.7,290.4 353.3,288.3 354.9,286.1 C356.5,284.0 358.1,281.7 359.7,279.4 C361.3,277.1 362.9,274.7 364.5,272.3 C366.1,269.9 367.7,267.5 369.3,265.0 C370.9,262.5 372.5,260.0 374.1,257.4 C375.7,254.9 377.3,252.3 378.9,249.7 C380.5,247.1 382.0,244.5 383.6,241.9 C385.2,239.3 386.8,236.7 388.4,234.0 C390.0,231.3 391.6,228.6 393.2,225.8 C394.8,222.9 396.4,220.0 398.0,217.0 C399.6,213.9 401.2,210.7 402.8,207.3 C404.4,204.0 406.0,200.5 407.6,197.0 C409.2,193.5 410.8,190.1 412.4,186.5 C414.0,182.9 415.6,179.1 417.2,175.4 C418.8,171.6 420.4,167.4 421.9,164.1 C423.5,160.8 425.1,158.0 426.7,155.6 C428.3,153.1 429.9,151.4 431.5,149.6 C433.1,147.7 434.7,146.2 436.3,144.5 C437.9,142.8 439.5,141.2 441.1,139.5 C442.7,137.8 444.3,136.2 445.9,134.5 C447.5,132.9 449.1,131.3 450.7,129.7 C452.3,128.1 453.9,126.5 455.5,125.0 C457.1,123.4 458.7,121.9 460.3,120.4 C461.9,118.9 463.4,117.5 465.0,116.1 C466.6,114.6 468.2,113.2 469.8,111.9 C471.4,110.6 473.0,109.2 474.6,108.0 C476.2,106.7 477.8,105.5 479.4,104.3 C481.0,103.1 482.6,101.9 484.2,100.8 C485.8,99.8 487.4,98.7 489.0,97.7 C490.6,96.7 492.2,95.7 493.8,94.8 C495.4,93.9 497.0,93.1 498.6,92.3 C500.2,91.5 501.8,90.8 503.3,90.1 C504.9,89.4 506.5,88.8 508.1,88.2 C509.7,87.7 511.3,87.2 512.9,86.8 C514.5,86.3 516.1,86.0 517.7,85.7 C519.3,85.4 521.7,85.1 522.5,85.0 L522.5,345.0 L240.0,345.0 Z"/></clipPath><g clip-path="url(#cca)"><path d="M-55.6,80 L217.3,346 M13.2,80 L-259.7,346 M-41.7,80 L231.2,346 M27.1,80 L-245.8,346 M-27.8,80 L245.1,346 M41.0,80 L-231.9,346 M-13.9,80 L259.0,346 M54.9,80 L-218.0,346 M0.0,80 L272.9,346 M68.8,80 L-204.1,346 M13.9,80 L286.8,346 M82.7,80 L-190.2,346 M27.8,80 L300.7,346 M96.6,80 L-176.3,346 M41.7,80 L314.6,346 M110.5,80 L-162.4,346 M55.6,80 L328.5,346 M124.4,80 L-148.5,346 M69.5,80 L342.4,346 M138.3,80 L-134.6,346 M83.4,80 L356.3,346 M152.2,80 L-120.7,346 M97.3,80 L370.2,346 M166.1,80 L-106.8,346 M111.2,80 L384.1,346 M180.0,80 L-92.9,346 M125.1,80 L398.0,346 M193.9,80 L-79.0,346 M139.0,80 L411.9,346 M207.8,80 L-65.1,346 M152.9,80 L425.8,346 M221.7,80 L-51.2,346 M166.8,80 L439.7,346 M235.6,80 L-37.3,346 M180.7,80 L453.6,346 M249.5,80 L-23.4,346 M194.6,80 L467.5,346 M263.4,80 L-9.5,346 M208.5,80 L481.4,346 M277.3,80 L4.4,346 M222.4,80 L495.3,346 M291.2,80 L18.3,346 M236.3,80 L509.2,346 M305.1,80 L32.2,346 M250.2,80 L523.1,346 M319.0,80 L46.1,346 M264.1,80 L537.0,346 M332.9,80 L60.0,346 M278.0,80 L550.9,346 M346.8,80 L73.9,346 M291.9,80 L564.8,346 M360.7,80 L87.8,346 M305.8,80 L578.7,346 M374.6,80 L101.7,346 M319.7,80 L592.6,346 M388.5,80 L115.6,346 M333.6,80 L606.5,346 M402.4,80 L129.5,346 M347.5,80 L620.4,346 M416.3,80 L143.4,346 M361.4,80 L634.3,346 M430.2,80 L157.3,346 M375.3,80 L648.2,346 M444.1,80 L171.2,346 M389.2,80 L662.1,346 M458.0,80 L185.1,346 M403.1,80 L676.0,346 M471.9,80 L199.0,346 M417.0,80 L689.9,346 M485.8,80 L212.9,346 M430.9,80 L703.8,346 M499.7,80 L226.8,346 M444.8,80 L717.7,346 M513.6,80 L240.7,346 M458.7,80 L731.6,346 M527.5,80 L254.6,346 M472.6,80 L745.5,346 M541.4,80 L268.5,346 M486.5,80 L759.4,346 M555.3,80 L282.4,346 M500.4,80 L773.3,346 M569.2,80 L296.3,346 M514.3,80 L787.2,346 M583.1,80 L310.2,346 M528.2,80 L801.1,346 M597.0,80 L324.1,346 M542.1,80 L815.0,346 M610.9,80 L338.0,346 M556.0,80 L828.9,346 M624.8,80 L351.9,346 M569.9,80 L842.8,346 M638.7,80 L365.8,346 M583.8,80 L856.7,346 M652.6,80 L379.7,346 M597.7,80 L870.6,346 M666.5,80 L393.6,346 M611.6,80 L884.5,346 M680.4,80 L407.5,346 M625.5,80 L898.4,346 M694.3,80 L421.4,346 M639.4,80 L912.3,346 M708.2,80 L435.3,346 M653.3,80 L926.2,346 M722.1,80 L449.2,346 M667.2,80 L940.1,346 M736.0,80 L463.1,346 M681.1,80 L954.0,346 M749.9,80 L477.0,346 M695.0,80 L967.9,346 M763.8,80 L490.9,346 M708.9,80 L981.8,346 M777.7,80 L504.8,346 M722.8,80 L995.7,346 M791.6,80 L518.7,346 M736.7,80 L1009.6,346 M805.5,80 L532.6,346 M750.6,80 L1023.5,346 M819.4,80 L546.5,346" fill="none" stroke="#2a2a2a" stroke-opacity="0.8" stroke-width="1.0"/></g>
<path d="M240.0,344.0 C240.8,343.9 243.2,343.5 244.8,343.2 C246.4,343.0 248.0,342.8 249.6,342.5 C251.2,342.3 252.8,342.1 254.4,341.9 C256.0,341.6 257.6,341.4 259.2,341.2 C260.7,341.0 262.3,340.7 263.9,340.5 C265.5,340.3 267.1,340.0 268.7,339.8 C270.3,339.5 271.9,339.2 273.5,338.9 C275.1,338.6 276.7,338.3 278.3,338.0 C279.9,337.7 281.5,337.3 283.1,336.9 C284.7,336.6 286.3,336.2 287.9,335.7 C289.5,335.3 291.1,334.8 292.7,334.3 C294.3,333.8 295.9,333.2 297.5,332.7 C299.1,332.1 300.6,331.4 302.2,330.8 C303.8,330.1 305.4,329.4 307.0,328.6 C308.6,327.9 310.2,327.0 311.8,326.2 C313.4,325.3 315.0,324.4 316.6,323.4 C318.2,322.4 319.8,321.4 321.4,320.2 C323.0,319.1 324.6,318.0 326.2,316.7 C327.8,315.5 329.4,314.2 331.0,312.8 C332.6,311.4 334.2,310.0 335.8,308.4 C337.4,306.9 339.0,305.3 340.6,303.6 C342.1,301.9 343.7,300.1 345.3,298.3 C346.9,296.4 348.5,294.5 350.1,292.4 C351.7,290.4 353.3,288.3 354.9,286.1 C356.5,284.0 358.1,281.7 359.7,279.4 C361.3,277.1 362.9,274.7 364.5,272.3 C366.1,269.9 367.7,267.5 369.3,265.0 C370.9,262.5 372.5,260.0 374.1,257.4 C375.7,254.9 377.3,252.3 378.9,249.7 C380.5,247.1 382.0,244.5 383.6,241.9 C385.2,239.3 386.8,236.7 388.4,234.0 C390.0,231.3 391.6,228.6 393.2,225.8 C394.8,222.9 396.4,220.0 398.0,217.0 C399.6,213.9 401.2,210.7 402.8,207.3 C404.4,204.0 406.0,200.5 407.6,197.0 C409.2,193.5 410.8,190.1 412.4,186.5 C414.0,182.9 415.6,179.1 417.2,175.4 C418.8,171.6 420.4,167.4 421.9,164.1 C423.5,160.8 425.1,158.0 426.7,155.6 C428.3,153.1 429.9,151.4 431.5,149.6 C433.1,147.7 434.7,146.2 436.3,144.5 C437.9,142.8 439.5,141.2 441.1,139.5 C442.7,137.8 444.3,136.2 445.9,134.5 C447.5,132.9 449.1,131.3 450.7,129.7 C452.3,128.1 453.9,126.5 455.5,125.0 C457.1,123.4 458.7,121.9 460.3,120.4 C461.9,118.9 463.4,117.5 465.0,116.1 C466.6,114.6 468.2,113.2 469.8,111.9 C471.4,110.6 473.0,109.2 474.6,108.0 C476.2,106.7 477.8,105.5 479.4,104.3 C481.0,103.1 482.6,101.9 484.2,100.8 C485.8,99.8 487.4,98.7 489.0,97.7 C490.6,96.7 492.2,95.7 493.8,94.8 C495.4,93.9 497.0,93.1 498.6,92.3 C500.2,91.5 501.8,90.8 503.3,90.1 C504.9,89.4 506.5,88.8 508.1,88.2 C509.7,87.7 511.3,87.2 512.9,86.8 C514.5,86.3 516.1,86.0 517.7,85.7 C519.3,85.4 521.7,85.1 522.5,85.0 L522.5,345.0" fill="none" stroke="#808080" stroke-opacity="0.9" stroke-width="3.2" stroke-dasharray="17 11.5 2 11.5" stroke-linecap="round"/>
<path d="M372.0,344.0 C372.9,343.6 375.5,342.5 377.2,341.8 C378.9,341.0 380.6,340.3 382.4,339.5 C384.1,338.8 385.8,338.0 387.6,337.3 C389.3,336.5 391.0,335.8 392.8,335.0 C394.5,334.3 396.2,333.5 397.9,332.8 C399.7,332.1 401.4,331.3 403.1,330.6 C404.9,329.8 406.6,329.1 408.3,328.3 C410.1,327.6 411.8,326.9 413.5,326.1 C415.2,325.4 417.0,324.7 418.7,323.9 C420.4,323.2 422.2,322.4 423.9,321.7 C425.6,320.9 427.4,320.2 429.1,319.4 C430.8,318.6 432.5,317.8 434.3,316.9 C436.0,316.1 437.7,315.3 439.5,314.4 C441.2,313.5 442.9,312.5 444.7,311.6 C446.4,310.6 448.1,309.6 449.8,308.6 C451.6,307.5 453.3,306.4 455.0,305.3 C456.8,304.2 458.5,303.0 460.2,301.8 C462.0,300.6 463.7,299.4 465.4,298.2 C467.1,297.0 468.9,295.7 470.6,294.4 C472.3,293.1 474.1,291.8 475.8,290.5 C477.5,289.2 479.3,287.9 481.0,286.5 C482.7,285.2 484.4,283.9 486.2,282.5 C487.9,281.2 489.6,279.9 491.4,278.7 C493.1,277.4 494.8,276.1 496.6,274.9 C498.3,273.8 500.0,272.6 501.7,271.5 C503.5,270.4 505.2,269.4 506.9,268.4 C508.7,267.4 510.4,266.5 512.1,265.7 C513.9,264.9 515.6,264.2 517.3,263.6 C519.0,262.9 521.6,262.3 522.5,262.0 L522.5,345.0 L372.0,345.0 Z" fill="rgba(0,0,0,0.12)"/>
<path d="M372.0,344.0 C372.9,343.6 375.5,342.5 377.2,341.8 C378.9,341.0 380.6,340.3 382.4,339.5 C384.1,338.8 385.8,338.0 387.6,337.3 C389.3,336.5 391.0,335.8 392.8,335.0 C394.5,334.3 396.2,333.5 397.9,332.8 C399.7,332.1 401.4,331.3 403.1,330.6 C404.9,329.8 406.6,329.1 408.3,328.3 C410.1,327.6 411.8,326.9 413.5,326.1 C415.2,325.4 417.0,324.7 418.7,323.9 C420.4,323.2 422.2,322.4 423.9,321.7 C425.6,320.9 427.4,320.2 429.1,319.4 C430.8,318.6 432.5,317.8 434.3,316.9 C436.0,316.1 437.7,315.3 439.5,314.4 C441.2,313.5 442.9,312.5 444.7,311.6 C446.4,310.6 448.1,309.6 449.8,308.6 C451.6,307.5 453.3,306.4 455.0,305.3 C456.8,304.2 458.5,303.0 460.2,301.8 C462.0,300.6 463.7,299.4 465.4,298.2 C467.1,297.0 468.9,295.7 470.6,294.4 C472.3,293.1 474.1,291.8 475.8,290.5 C477.5,289.2 479.3,287.9 481.0,286.5 C482.7,285.2 484.4,283.9 486.2,282.5 C487.9,281.2 489.6,279.9 491.4,278.7 C493.1,277.4 494.8,276.1 496.6,274.9 C498.3,273.8 500.0,272.6 501.7,271.5 C503.5,270.4 505.2,269.4 506.9,268.4 C508.7,267.4 510.4,266.5 512.1,265.7 C513.9,264.9 515.6,264.2 517.3,263.6 C519.0,262.9 521.6,262.3 522.5,262.0 L522.5,345.0 L372.0,345.0 Z" fill="url(#wgrid)"/>
<path d="M372.0,344.0 C372.9,343.6 375.5,342.5 377.2,341.8 C378.9,341.0 380.6,340.3 382.4,339.5 C384.1,338.8 385.8,338.0 387.6,337.3 C389.3,336.5 391.0,335.8 392.8,335.0 C394.5,334.3 396.2,333.5 397.9,332.8 C399.7,332.1 401.4,331.3 403.1,330.6 C404.9,329.8 406.6,329.1 408.3,328.3 C410.1,327.6 411.8,326.9 413.5,326.1 C415.2,325.4 417.0,324.7 418.7,323.9 C420.4,323.2 422.2,322.4 423.9,321.7 C425.6,320.9 427.4,320.2 429.1,319.4 C430.8,318.6 432.5,317.8 434.3,316.9 C436.0,316.1 437.7,315.3 439.5,314.4 C441.2,313.5 442.9,312.5 444.7,311.6 C446.4,310.6 448.1,309.6 449.8,308.6 C451.6,307.5 453.3,306.4 455.0,305.3 C456.8,304.2 458.5,303.0 460.2,301.8 C462.0,300.6 463.7,299.4 465.4,298.2 C467.1,297.0 468.9,295.7 470.6,294.4 C472.3,293.1 474.1,291.8 475.8,290.5 C477.5,289.2 479.3,287.9 481.0,286.5 C482.7,285.2 484.4,283.9 486.2,282.5 C487.9,281.2 489.6,279.9 491.4,278.7 C493.1,277.4 494.8,276.1 496.6,274.9 C498.3,273.8 500.0,272.6 501.7,271.5 C503.5,270.4 505.2,269.4 506.9,268.4 C508.7,267.4 510.4,266.5 512.1,265.7 C513.9,264.9 515.6,264.2 517.3,263.6 C519.0,262.9 521.6,262.3 522.5,262.0" fill="none" stroke="#5a4a4a" stroke-opacity="0.3" stroke-width="3.5" stroke-dasharray="7 13.7" stroke-linecap="round"/>
<path d="M523.8,262 L523.8,345" fill="none" stroke="#3a1010" stroke-opacity="0.6" stroke-width="2.2" stroke-dasharray="8 12.7"/>
<path d="M522.5,187.3 V345" fill="none" stroke="#ff0000" stroke-opacity="0.55" stroke-width="3.2"/>
<path d="M94.3,57.6 V345.0 H562" fill="none" stroke="#000" stroke-width="2.2"/>
<path d="M83.5,58.6 H94" stroke="#000" stroke-width="1.9"/>
<path d="M83.5,116.4 H94" stroke="#000" stroke-width="1.9"/>
<path d="M83.5,174.2 H94" stroke="#000" stroke-width="1.9"/>
<path d="M83.5,232.0 H94" stroke="#000" stroke-width="1.9"/>
<path d="M83.5,289.8 H94" stroke="#000" stroke-width="1.9"/>
<path d="M158.6,345.0 V355.0" stroke="#000" stroke-width="1.9"/>
<path d="M288.6,345.0 V355.0" stroke="#000" stroke-width="1.9"/>
<path d="M423.0,345.0 V355.0" stroke="#000" stroke-width="1.9"/>
<text x="43.2" y="64.5" font-size="24.3" textLength="34.0" lengthAdjust="spacingAndGlyphs" >1.0</text>
<text x="43.2" y="122.3" font-size="24.3" textLength="34.0" lengthAdjust="spacingAndGlyphs" >0.8</text>
<text x="43.2" y="180.1" font-size="24.3" textLength="34.0" lengthAdjust="spacingAndGlyphs" >0.6</text>
<text x="43.2" y="237.9" font-size="24.3" textLength="34.0" lengthAdjust="spacingAndGlyphs" >0.4</text>
<text x="43.2" y="295.7" font-size="24.3" textLength="34.0" lengthAdjust="spacingAndGlyphs" >0.2</text>
<!-- panel b -->
<clipPath id="cpb"><path d="M94.0,553.6 C95.2,555.6 98.8,561.7 101.3,565.7 C103.7,569.7 106.1,573.7 108.5,577.6 C110.9,581.5 113.4,585.4 115.8,589.2 C118.2,593.1 120.6,596.9 123.1,600.6 C125.5,604.4 127.9,608.1 130.3,611.7 C132.7,615.4 135.2,619.0 137.6,622.6 C140.0,626.2 142.4,629.7 144.8,633.2 C147.3,636.7 149.7,640.1 152.1,643.5 C154.5,646.9 156.9,650.3 159.4,653.6 C161.8,656.9 164.2,660.2 166.6,663.4 C169.0,666.7 171.5,669.8 173.9,673.0 C176.3,676.1 178.7,679.2 181.2,682.3 C183.6,685.3 186.0,688.3 188.4,691.3 C190.8,694.3 193.3,697.2 195.7,700.1 C198.1,702.9 200.5,705.8 202.9,708.6 C205.4,711.3 207.8,714.1 210.2,716.8 C212.6,719.5 215.0,722.1 217.5,724.7 C219.9,727.4 222.3,729.9 224.7,732.4 C227.1,735.0 229.6,737.4 232.0,739.9 C234.4,742.3 236.8,744.7 239.3,747.0 C241.7,749.3 244.1,751.6 246.5,753.9 C248.9,756.1 251.4,758.3 253.8,760.5 C256.2,762.6 258.6,764.7 261.0,766.8 C263.5,768.9 265.9,770.9 268.3,772.8 C270.7,774.8 273.1,776.7 275.6,778.6 C278.0,780.5 280.4,782.3 282.8,784.1 C285.3,785.9 287.7,787.6 290.1,789.3 C292.5,791.0 294.9,792.7 297.4,794.3 C299.8,795.9 302.2,797.4 304.6,798.9 C307.0,800.4 309.5,801.9 311.9,803.3 C314.3,804.7 316.7,806.1 319.1,807.4 C321.6,808.7 324.0,810.0 326.4,811.2 C328.8,812.4 331.2,813.6 333.7,814.7 C336.1,815.9 338.5,816.9 340.9,818.0 C343.4,819.0 345.8,820.0 348.2,820.9 C350.6,821.9 353.0,822.8 355.5,823.6 C357.9,824.4 360.3,825.2 362.7,826.0 C365.1,826.7 367.6,827.4 370.0,828.1 C372.4,828.7 374.8,829.3 377.2,829.9 C379.7,830.4 382.1,830.9 384.5,831.4 C386.9,831.9 389.4,832.3 391.8,832.6 C394.2,833.0 396.6,833.3 399.0,833.6 C401.5,833.8 403.9,834.1 406.3,834.2 C408.7,834.4 411.1,834.5 413.6,834.6 C416.0,834.7 418.4,834.7 420.8,834.6 C423.2,834.6 425.7,834.5 428.1,834.4 C430.5,834.3 432.9,834.1 435.3,833.9 C437.8,833.7 440.2,833.4 442.6,833.1 C445.0,832.8 447.5,832.4 449.9,832.0 C452.3,831.6 454.7,831.1 457.1,830.6 C459.6,830.0 462.0,829.5 464.4,828.9 C466.8,828.2 469.2,827.6 471.7,826.9 C474.1,826.1 476.5,825.4 478.9,824.6 C481.3,823.8 483.8,822.9 486.2,822.0 C488.6,821.1 491.0,820.1 493.4,819.1 C495.9,818.1 498.3,817.0 500.7,815.9 C503.1,814.8 505.6,813.6 508.0,812.4 C510.4,811.2 512.8,809.9 515.2,808.6 C517.7,807.3 521.3,805.2 522.5,804.5 L522.5,838.6 L94.0,838.6 Z"/></clipPath>
<path d="M94.0,553.6 C95.2,555.6 98.8,561.7 101.3,565.7 C103.7,569.7 106.1,573.7 108.5,577.6 C110.9,581.5 113.4,585.4 115.8,589.2 C118.2,593.1 120.6,596.9 123.1,600.6 C125.5,604.4 127.9,608.1 130.3,611.7 C132.7,615.4 135.2,619.0 137.6,622.6 C140.0,626.2 142.4,629.7 144.8,633.2 C147.3,636.7 149.7,640.1 152.1,643.5 C154.5,646.9 156.9,650.3 159.4,653.6 C161.8,656.9 164.2,660.2 166.6,663.4 C169.0,666.7 171.5,669.8 173.9,673.0 C176.3,676.1 178.7,679.2 181.2,682.3 C183.6,685.3 186.0,688.3 188.4,691.3 C190.8,694.3 193.3,697.2 195.7,700.1 C198.1,702.9 200.5,705.8 202.9,708.6 C205.4,711.3 207.8,714.1 210.2,716.8 C212.6,719.5 215.0,722.1 217.5,724.7 C219.9,727.4 222.3,729.9 224.7,732.4 C227.1,735.0 229.6,737.4 232.0,739.9 C234.4,742.3 236.8,744.7 239.3,747.0 C241.7,749.3 244.1,751.6 246.5,753.9 C248.9,756.1 251.4,758.3 253.8,760.5 C256.2,762.6 258.6,764.7 261.0,766.8 C263.5,768.9 265.9,770.9 268.3,772.8 C270.7,774.8 273.1,776.7 275.6,778.6 C278.0,780.5 280.4,782.3 282.8,784.1 C285.3,785.9 287.7,787.6 290.1,789.3 C292.5,791.0 294.9,792.7 297.4,794.3 C299.8,795.9 302.2,797.4 304.6,798.9 C307.0,800.4 309.5,801.9 311.9,803.3 C314.3,804.7 316.7,806.1 319.1,807.4 C321.6,808.7 324.0,810.0 326.4,811.2 C328.8,812.4 331.2,813.6 333.7,814.7 C336.1,815.9 338.5,816.9 340.9,818.0 C343.4,819.0 345.8,820.0 348.2,820.9 C350.6,821.9 353.0,822.8 355.5,823.6 C357.9,824.4 360.3,825.2 362.7,826.0 C365.1,826.7 367.6,827.4 370.0,828.1 C372.4,828.7 374.8,829.3 377.2,829.9 C379.7,830.4 382.1,830.9 384.5,831.4 C386.9,831.9 389.4,832.3 391.8,832.6 C394.2,833.0 396.6,833.3 399.0,833.6 C401.5,833.8 403.9,834.1 406.3,834.2 C408.7,834.4 411.1,834.5 413.6,834.6 C416.0,834.7 418.4,834.7 420.8,834.6 C423.2,834.6 425.7,834.5 428.1,834.4 C430.5,834.3 432.9,834.1 435.3,833.9 C437.8,833.7 440.2,833.4 442.6,833.1 C445.0,832.8 447.5,832.4 449.9,832.0 C452.3,831.6 454.7,831.1 457.1,830.6 C459.6,830.0 462.0,829.5 464.4,828.9 C466.8,828.2 469.2,827.6 471.7,826.9 C474.1,826.1 476.5,825.4 478.9,824.6 C481.3,823.8 483.8,822.9 486.2,822.0 C488.6,821.1 491.0,820.1 493.4,819.1 C495.9,818.1 498.3,817.0 500.7,815.9 C503.1,814.8 505.6,813.6 508.0,812.4 C510.4,811.2 512.8,809.9 515.2,808.6 C517.7,807.3 521.3,805.2 522.5,804.5 L522.5,838.6 L94.0,838.6 Z" fill="#d9d9d9"/>
<path d="M94.0,837.0 C94.9,836.4 97.5,834.7 99.2,833.7 C100.9,832.6 102.7,831.6 104.4,830.6 C106.1,829.6 107.9,828.7 109.6,827.7 C111.3,826.8 113.1,825.9 114.8,824.9 C116.5,824.0 118.3,823.1 120.0,822.2 C121.7,821.3 123.5,820.4 125.2,819.4 C126.9,818.5 128.7,817.5 130.4,816.5 C132.2,815.5 133.9,814.5 135.6,813.5 C137.4,812.4 139.1,811.3 140.8,810.1 C142.6,809.0 144.3,807.8 146.0,806.5 C147.8,805.2 149.5,803.8 151.2,802.4 C153.0,801.0 154.7,799.5 156.4,797.9 C158.2,796.3 159.9,794.6 161.6,792.8 C163.4,791.0 165.1,789.1 166.8,787.0 C168.6,785.0 170.3,782.9 172.0,780.6 C173.8,778.4 175.5,776.0 177.2,773.4 C179.0,770.9 180.7,768.2 182.4,765.4 C184.2,762.5 185.9,759.6 187.6,756.4 C189.4,753.3 191.1,750.0 192.8,746.6 C194.6,743.2 196.3,739.7 198.1,736.1 C199.8,732.4 201.5,728.7 203.3,724.8 C205.0,721.0 206.7,717.0 208.5,713.0 C210.2,709.0 211.9,704.9 213.7,700.7 C215.4,696.6 217.1,692.3 218.9,688.1 C220.6,683.8 222.3,679.5 224.1,675.2 C225.8,670.9 227.5,666.6 229.3,662.3 C231.0,658.1 232.7,653.8 234.5,649.7 C236.2,645.5 237.9,641.4 239.7,637.4 C241.4,633.4 243.1,629.4 244.9,625.6 C246.6,621.8 248.3,618.0 250.1,614.3 C251.8,610.7 253.5,607.1 255.3,603.7 C257.0,600.3 258.7,597.0 260.5,593.9 C262.2,590.7 263.9,587.7 265.7,584.8 C267.4,582.0 269.2,579.2 270.9,576.7 C272.6,574.2 274.4,571.8 276.1,569.6 C277.8,567.4 279.6,565.4 281.3,563.7 C283.0,561.9 284.8,560.3 286.5,559.0 C288.2,557.7 290.0,556.6 291.7,555.8 C293.4,554.9 295.2,554.3 296.9,554.0 C298.6,553.7 300.4,553.7 302.1,553.9 C303.8,554.2 305.6,554.7 307.3,555.4 C309.0,556.2 310.8,557.2 312.5,558.4 C314.2,559.6 316.0,561.1 317.7,562.7 C319.4,564.4 321.2,566.3 322.9,568.3 C324.6,570.4 326.4,572.7 328.1,575.1 C329.8,577.6 331.6,580.2 333.3,583.0 C335.1,585.8 336.8,588.7 338.5,591.8 C340.3,594.9 342.0,598.1 343.7,601.5 C345.5,604.8 347.2,608.3 348.9,611.9 C350.7,615.4 352.4,619.1 354.1,622.9 C355.9,626.7 357.6,630.6 359.3,634.5 C361.1,638.5 362.8,642.5 364.5,646.6 C366.3,650.7 368.0,654.8 369.7,659.0 C371.5,663.2 373.2,667.4 374.9,671.6 C376.7,675.9 378.4,680.2 380.1,684.4 C381.9,688.7 383.6,692.9 385.3,697.1 C387.1,701.2 388.8,705.3 390.5,709.3 C392.3,713.3 394.0,717.2 395.7,721.0 C397.5,724.7 399.2,728.4 400.9,732.0 C402.7,735.5 404.4,739.0 406.2,742.3 C407.9,745.7 409.6,748.9 411.4,752.1 C413.1,755.2 414.8,758.2 416.6,761.1 C418.3,764.0 420.0,766.8 421.8,769.5 C423.5,772.2 425.2,774.8 427.0,777.3 C428.7,779.8 430.4,782.1 432.2,784.4 C433.9,786.6 435.6,788.8 437.4,790.9 C439.1,792.9 440.8,794.9 442.6,796.8 C444.3,798.7 446.0,800.4 447.8,802.1 C449.5,803.9 451.2,805.5 453.0,807.0 C454.7,808.6 456.4,810.0 458.2,811.5 C459.9,812.9 461.6,814.2 463.4,815.5 C465.1,816.7 466.8,817.9 468.6,819.1 C470.3,820.2 472.1,821.3 473.8,822.4 C475.5,823.4 477.3,824.4 479.0,825.3 C480.7,826.3 482.5,827.2 484.2,828.1 C485.9,828.9 487.7,829.7 489.4,830.5 C491.1,831.3 492.9,832.1 494.6,832.8 C496.3,833.6 498.1,834.3 499.8,835.0 C501.5,835.7 504.1,836.7 505.0,837.0 L505.0,838.6 L94.0,838.6 Z" fill="rgba(231,231,231,0.42)"/>
<path d="M94.0,837.0 C94.9,836.4 97.5,834.7 99.2,833.7 C100.9,832.6 102.7,831.6 104.4,830.6 C106.1,829.6 107.9,828.7 109.6,827.7 C111.3,826.8 113.1,825.9 114.8,824.9 C116.5,824.0 118.3,823.1 120.0,822.2 C121.7,821.3 123.5,820.4 125.2,819.4 C126.9,818.5 128.7,817.5 130.4,816.5 C132.2,815.5 133.9,814.5 135.6,813.5 C137.4,812.4 139.1,811.3 140.8,810.1 C142.6,809.0 144.3,807.8 146.0,806.5 C147.8,805.2 149.5,803.8 151.2,802.4 C153.0,801.0 154.7,799.5 156.4,797.9 C158.2,796.3 159.9,794.6 161.6,792.8 C163.4,791.0 165.1,789.1 166.8,787.0 C168.6,785.0 170.3,782.9 172.0,780.6 C173.8,778.4 175.5,776.0 177.2,773.4 C179.0,770.9 180.7,768.2 182.4,765.4 C184.2,762.5 185.9,759.6 187.6,756.4 C189.4,753.3 191.1,750.0 192.8,746.6 C194.6,743.2 196.3,739.7 198.1,736.1 C199.8,732.4 201.5,728.7 203.3,724.8 C205.0,721.0 206.7,717.0 208.5,713.0 C210.2,709.0 211.9,704.9 213.7,700.7 C215.4,696.6 217.1,692.3 218.9,688.1 C220.6,683.8 222.3,679.5 224.1,675.2 C225.8,670.9 227.5,666.6 229.3,662.3 C231.0,658.1 232.7,653.8 234.5,649.7 C236.2,645.5 237.9,641.4 239.7,637.4 C241.4,633.4 243.1,629.4 244.9,625.6 C246.6,621.8 248.3,618.0 250.1,614.3 C251.8,610.7 253.5,607.1 255.3,603.7 C257.0,600.3 258.7,597.0 260.5,593.9 C262.2,590.7 263.9,587.7 265.7,584.8 C267.4,582.0 269.2,579.2 270.9,576.7 C272.6,574.2 274.4,571.8 276.1,569.6 C277.8,567.4 279.6,565.4 281.3,563.7 C283.0,561.9 284.8,560.3 286.5,559.0 C288.2,557.7 290.0,556.6 291.7,555.8 C293.4,554.9 295.2,554.3 296.9,554.0 C298.6,553.7 300.4,553.7 302.1,553.9 C303.8,554.2 305.6,554.7 307.3,555.4 C309.0,556.2 310.8,557.2 312.5,558.4 C314.2,559.6 316.0,561.1 317.7,562.7 C319.4,564.4 321.2,566.3 322.9,568.3 C324.6,570.4 326.4,572.7 328.1,575.1 C329.8,577.6 331.6,580.2 333.3,583.0 C335.1,585.8 336.8,588.7 338.5,591.8 C340.3,594.9 342.0,598.1 343.7,601.5 C345.5,604.8 347.2,608.3 348.9,611.9 C350.7,615.4 352.4,619.1 354.1,622.9 C355.9,626.7 357.6,630.6 359.3,634.5 C361.1,638.5 362.8,642.5 364.5,646.6 C366.3,650.7 368.0,654.8 369.7,659.0 C371.5,663.2 373.2,667.4 374.9,671.6 C376.7,675.9 378.4,680.2 380.1,684.4 C381.9,688.7 383.6,692.9 385.3,697.1 C387.1,701.2 388.8,705.3 390.5,709.3 C392.3,713.3 394.0,717.2 395.7,721.0 C397.5,724.7 399.2,728.4 400.9,732.0 C402.7,735.5 404.4,739.0 406.2,742.3 C407.9,745.7 409.6,748.9 411.4,752.1 C413.1,755.2 414.8,758.2 416.6,761.1 C418.3,764.0 420.0,766.8 421.8,769.5 C423.5,772.2 425.2,774.8 427.0,777.3 C428.7,779.8 430.4,782.1 432.2,784.4 C433.9,786.6 435.6,788.8 437.4,790.9 C439.1,792.9 440.8,794.9 442.6,796.8 C444.3,798.7 446.0,800.4 447.8,802.1 C449.5,803.9 451.2,805.5 453.0,807.0 C454.7,808.6 456.4,810.0 458.2,811.5 C459.9,812.9 461.6,814.2 463.4,815.5 C465.1,816.7 466.8,817.9 468.6,819.1 C470.3,820.2 472.1,821.3 473.8,822.4 C475.5,823.4 477.3,824.4 479.0,825.3 C480.7,826.3 482.5,827.2 484.2,828.1 C485.9,828.9 487.7,829.7 489.4,830.5 C491.1,831.3 492.9,832.1 494.6,832.8 C496.3,833.6 498.1,834.3 499.8,835.0 C501.5,835.7 504.1,836.7 505.0,837.0 L505.0,838.6 L94.0,838.6 Z" fill="url(#fine)"/>
<path d="M94.0,837.0 C94.9,836.4 97.5,834.7 99.2,833.7 C100.9,832.6 102.7,831.6 104.4,830.6 C106.1,829.6 107.9,828.7 109.6,827.7 C111.3,826.8 113.1,825.9 114.8,824.9 C116.5,824.0 118.3,823.1 120.0,822.2 C121.7,821.3 123.5,820.4 125.2,819.4 C126.9,818.5 128.7,817.5 130.4,816.5 C132.2,815.5 133.9,814.5 135.6,813.5 C137.4,812.4 139.1,811.3 140.8,810.1 C142.6,809.0 144.3,807.8 146.0,806.5 C147.8,805.2 149.5,803.8 151.2,802.4 C153.0,801.0 154.7,799.5 156.4,797.9 C158.2,796.3 159.9,794.6 161.6,792.8 C163.4,791.0 165.1,789.1 166.8,787.0 C168.6,785.0 170.3,782.9 172.0,780.6 C173.8,778.4 175.5,776.0 177.2,773.4 C179.0,770.9 180.7,768.2 182.4,765.4 C184.2,762.5 185.9,759.6 187.6,756.4 C189.4,753.3 191.1,750.0 192.8,746.6 C194.6,743.2 196.3,739.7 198.1,736.1 C199.8,732.4 201.5,728.7 203.3,724.8 C205.0,721.0 206.7,717.0 208.5,713.0 C210.2,709.0 211.9,704.9 213.7,700.7 C215.4,696.6 217.1,692.3 218.9,688.1 C220.6,683.8 222.3,679.5 224.1,675.2 C225.8,670.9 227.5,666.6 229.3,662.3 C231.0,658.1 232.7,653.8 234.5,649.7 C236.2,645.5 237.9,641.4 239.7,637.4 C241.4,633.4 243.1,629.4 244.9,625.6 C246.6,621.8 248.3,618.0 250.1,614.3 C251.8,610.7 253.5,607.1 255.3,603.7 C257.0,600.3 258.7,597.0 260.5,593.9 C262.2,590.7 263.9,587.7 265.7,584.8 C267.4,582.0 269.2,579.2 270.9,576.7 C272.6,574.2 274.4,571.8 276.1,569.6 C277.8,567.4 279.6,565.4 281.3,563.7 C283.0,561.9 284.8,560.3 286.5,559.0 C288.2,557.7 290.0,556.6 291.7,555.8 C293.4,554.9 295.2,554.3 296.9,554.0 C298.6,553.7 300.4,553.7 302.1,553.9 C303.8,554.2 305.6,554.7 307.3,555.4 C309.0,556.2 310.8,557.2 312.5,558.4 C314.2,559.6 316.0,561.1 317.7,562.7 C319.4,564.4 321.2,566.3 322.9,568.3 C324.6,570.4 326.4,572.7 328.1,575.1 C329.8,577.6 331.6,580.2 333.3,583.0 C335.1,585.8 336.8,588.7 338.5,591.8 C340.3,594.9 342.0,598.1 343.7,601.5 C345.5,604.8 347.2,608.3 348.9,611.9 C350.7,615.4 352.4,619.1 354.1,622.9 C355.9,626.7 357.6,630.6 359.3,634.5 C361.1,638.5 362.8,642.5 364.5,646.6 C366.3,650.7 368.0,654.8 369.7,659.0 C371.5,663.2 373.2,667.4 374.9,671.6 C376.7,675.9 378.4,680.2 380.1,684.4 C381.9,688.7 383.6,692.9 385.3,697.1 C387.1,701.2 388.8,705.3 390.5,709.3 C392.3,713.3 394.0,717.2 395.7,721.0 C397.5,724.7 399.2,728.4 400.9,732.0 C402.7,735.5 404.4,739.0 406.2,742.3 C407.9,745.7 409.6,748.9 411.4,752.1 C413.1,755.2 414.8,758.2 416.6,761.1 C418.3,764.0 420.0,766.8 421.8,769.5 C423.5,772.2 425.2,774.8 427.0,777.3 C428.7,779.8 430.4,782.1 432.2,784.4 C433.9,786.6 435.6,788.8 437.4,790.9 C439.1,792.9 440.8,794.9 442.6,796.8 C444.3,798.7 446.0,800.4 447.8,802.1 C449.5,803.9 451.2,805.5 453.0,807.0 C454.7,808.6 456.4,810.0 458.2,811.5 C459.9,812.9 461.6,814.2 463.4,815.5 C465.1,816.7 466.8,817.9 468.6,819.1 C470.3,820.2 472.1,821.3 473.8,822.4 C475.5,823.4 477.3,824.4 479.0,825.3 C480.7,826.3 482.5,827.2 484.2,828.1 C485.9,828.9 487.7,829.7 489.4,830.5 C491.1,831.3 492.9,832.1 494.6,832.8 C496.3,833.6 498.1,834.3 499.8,835.0 C501.5,835.7 504.1,836.7 505.0,837.0" fill="none" stroke="#737373" stroke-width="3.6" stroke-dasharray="14 24.5" stroke-linecap="round"/>
<g clip-path="url(#cpb)"><path d="M94.0,837.0 C94.9,836.4 97.5,834.7 99.2,833.7 C100.9,832.6 102.7,831.6 104.4,830.6 C106.1,829.6 107.9,828.7 109.6,827.7 C111.3,826.8 113.1,825.9 114.8,824.9 C116.5,824.0 118.3,823.1 120.0,822.2 C121.7,821.3 123.5,820.4 125.2,819.4 C126.9,818.5 128.7,817.5 130.4,816.5 C132.2,815.5 133.9,814.5 135.6,813.5 C137.4,812.4 139.1,811.3 140.8,810.1 C142.6,809.0 144.3,807.8 146.0,806.5 C147.8,805.2 149.5,803.8 151.2,802.4 C153.0,801.0 154.7,799.5 156.4,797.9 C158.2,796.3 159.9,794.6 161.6,792.8 C163.4,791.0 165.1,789.1 166.8,787.0 C168.6,785.0 170.3,782.9 172.0,780.6 C173.8,778.4 175.5,776.0 177.2,773.4 C179.0,770.9 180.7,768.2 182.4,765.4 C184.2,762.5 185.9,759.6 187.6,756.4 C189.4,753.3 191.1,750.0 192.8,746.6 C194.6,743.2 196.3,739.7 198.1,736.1 C199.8,732.4 201.5,728.7 203.3,724.8 C205.0,721.0 206.7,717.0 208.5,713.0 C210.2,709.0 211.9,704.9 213.7,700.7 C215.4,696.6 217.1,692.3 218.9,688.1 C220.6,683.8 222.3,679.5 224.1,675.2 C225.8,670.9 227.5,666.6 229.3,662.3 C231.0,658.1 232.7,653.8 234.5,649.7 C236.2,645.5 237.9,641.4 239.7,637.4 C241.4,633.4 243.1,629.4 244.9,625.6 C246.6,621.8 248.3,618.0 250.1,614.3 C251.8,610.7 253.5,607.1 255.3,603.7 C257.0,600.3 258.7,597.0 260.5,593.9 C262.2,590.7 263.9,587.7 265.7,584.8 C267.4,582.0 269.2,579.2 270.9,576.7 C272.6,574.2 274.4,571.8 276.1,569.6 C277.8,567.4 279.6,565.4 281.3,563.7 C283.0,561.9 284.8,560.3 286.5,559.0 C288.2,557.7 290.0,556.6 291.7,555.8 C293.4,554.9 295.2,554.3 296.9,554.0 C298.6,553.7 300.4,553.7 302.1,553.9 C303.8,554.2 305.6,554.7 307.3,555.4 C309.0,556.2 310.8,557.2 312.5,558.4 C314.2,559.6 316.0,561.1 317.7,562.7 C319.4,564.4 321.2,566.3 322.9,568.3 C324.6,570.4 326.4,572.7 328.1,575.1 C329.8,577.6 331.6,580.2 333.3,583.0 C335.1,585.8 336.8,588.7 338.5,591.8 C340.3,594.9 342.0,598.1 343.7,601.5 C345.5,604.8 347.2,608.3 348.9,611.9 C350.7,615.4 352.4,619.1 354.1,622.9 C355.9,626.7 357.6,630.6 359.3,634.5 C361.1,638.5 362.8,642.5 364.5,646.6 C366.3,650.7 368.0,654.8 369.7,659.0 C371.5,663.2 373.2,667.4 374.9,671.6 C376.7,675.9 378.4,680.2 380.1,684.4 C381.9,688.7 383.6,692.9 385.3,697.1 C387.1,701.2 388.8,705.3 390.5,709.3 C392.3,713.3 394.0,717.2 395.7,721.0 C397.5,724.7 399.2,728.4 400.9,732.0 C402.7,735.5 404.4,739.0 406.2,742.3 C407.9,745.7 409.6,748.9 411.4,752.1 C413.1,755.2 414.8,758.2 416.6,761.1 C418.3,764.0 420.0,766.8 421.8,769.5 C423.5,772.2 425.2,774.8 427.0,777.3 C428.7,779.8 430.4,782.1 432.2,784.4 C433.9,786.6 435.6,788.8 437.4,790.9 C439.1,792.9 440.8,794.9 442.6,796.8 C444.3,798.7 446.0,800.4 447.8,802.1 C449.5,803.9 451.2,805.5 453.0,807.0 C454.7,808.6 456.4,810.0 458.2,811.5 C459.9,812.9 461.6,814.2 463.4,815.5 C465.1,816.7 466.8,817.9 468.6,819.1 C470.3,820.2 472.1,821.3 473.8,822.4 C475.5,823.4 477.3,824.4 479.0,825.3 C480.7,826.3 482.5,827.2 484.2,828.1 C485.9,828.9 487.7,829.7 489.4,830.5 C491.1,831.3 492.9,832.1 494.6,832.8 C496.3,833.6 498.1,834.3 499.8,835.0 C501.5,835.7 504.1,836.7 505.0,837.0" fill="none" stroke="#d4d4d4" stroke-opacity="0.55" stroke-width="3.6" stroke-dasharray="14 24.5" stroke-linecap="round"/></g>
<path d="M210.2,716.8 C211.4,718.1 215.0,722.1 217.5,724.7 C219.9,727.4 222.3,729.9 224.7,732.4 C227.1,735.0 229.6,737.4 232.0,739.9 C234.4,742.3 236.8,744.7 239.3,747.0 C241.7,749.3 244.1,751.6 246.5,753.9 C248.9,756.1 251.4,758.3 253.8,760.5 C256.2,762.6 258.6,764.7 261.0,766.8 C263.5,768.9 265.9,770.9 268.3,772.8 C270.7,774.8 273.1,776.7 275.6,778.6 C278.0,780.5 280.4,782.3 282.8,784.1 C285.3,785.9 288.9,788.5 290.1,789.3" fill="none" stroke="#fff" stroke-opacity="0.33" stroke-width="11" transform="translate(3.5 -3.5)"/>
<path d="M94.0,553.6 C95.2,555.6 98.8,561.7 101.3,565.7 C103.7,569.7 106.1,573.7 108.5,577.6 C110.9,581.5 113.4,585.4 115.8,589.2 C118.2,593.1 120.6,596.9 123.1,600.6 C125.5,604.4 127.9,608.1 130.3,611.7 C132.7,615.4 135.2,619.0 137.6,622.6 C140.0,626.2 142.4,629.7 144.8,633.2 C147.3,636.7 149.7,640.1 152.1,643.5 C154.5,646.9 156.9,650.3 159.4,653.6 C161.8,656.9 164.2,660.2 166.6,663.4 C169.0,666.7 171.5,669.8 173.9,673.0 C176.3,676.1 178.7,679.2 181.2,682.3 C183.6,685.3 186.0,688.3 188.4,691.3 C190.8,694.3 193.3,697.2 195.7,700.1 C198.1,702.9 200.5,705.8 202.9,708.6 C205.4,711.3 207.8,714.1 210.2,716.8 C212.6,719.5 215.0,722.1 217.5,724.7 C219.9,727.4 222.3,729.9 224.7,732.4 C227.1,735.0 229.6,737.4 232.0,739.9 C234.4,742.3 236.8,744.7 239.3,747.0 C241.7,749.3 244.1,751.6 246.5,753.9 C248.9,756.1 251.4,758.3 253.8,760.5 C256.2,762.6 258.6,764.7 261.0,766.8 C263.5,768.9 265.9,770.9 268.3,772.8 C270.7,774.8 273.1,776.7 275.6,778.6 C278.0,780.5 280.4,782.3 282.8,784.1 C285.3,785.9 287.7,787.6 290.1,789.3 C292.5,791.0 294.9,792.7 297.4,794.3 C299.8,795.9 302.2,797.4 304.6,798.9 C307.0,800.4 309.5,801.9 311.9,803.3 C314.3,804.7 316.7,806.1 319.1,807.4 C321.6,808.7 324.0,810.0 326.4,811.2 C328.8,812.4 331.2,813.6 333.7,814.7 C336.1,815.9 338.5,816.9 340.9,818.0 C343.4,819.0 345.8,820.0 348.2,820.9 C350.6,821.9 353.0,822.8 355.5,823.6 C357.9,824.4 360.3,825.2 362.7,826.0 C365.1,826.7 367.6,827.4 370.0,828.1 C372.4,828.7 374.8,829.3 377.2,829.9 C379.7,830.4 382.1,830.9 384.5,831.4 C386.9,831.9 389.4,832.3 391.8,832.6 C394.2,833.0 396.6,833.3 399.0,833.6 C401.5,833.8 403.9,834.1 406.3,834.2 C408.7,834.4 411.1,834.5 413.6,834.6 C416.0,834.7 418.4,834.7 420.8,834.6 C423.2,834.6 425.7,834.5 428.1,834.4 C430.5,834.3 432.9,834.1 435.3,833.9 C437.8,833.7 440.2,833.4 442.6,833.1 C445.0,832.8 447.5,832.4 449.9,832.0 C452.3,831.6 454.7,831.1 457.1,830.6 C459.6,830.0 462.0,829.5 464.4,828.9 C466.8,828.2 469.2,827.6 471.7,826.9 C474.1,826.1 476.5,825.4 478.9,824.6 C481.3,823.8 483.8,822.9 486.2,822.0 C488.6,821.1 491.0,820.1 493.4,819.1 C495.9,818.1 498.3,817.0 500.7,815.9 C503.1,814.8 505.6,813.6 508.0,812.4 C510.4,811.2 512.8,809.9 515.2,808.6 C517.7,807.3 521.3,805.2 522.5,804.5" fill="none" stroke="#000" stroke-width="2.3"/>
<path d="M197.0,837.0 C197.9,836.0 200.7,833.2 202.5,831.2 C204.4,829.2 206.2,827.1 208.0,825.1 C209.9,823.0 211.7,820.9 213.6,818.7 C215.4,816.6 217.2,814.4 219.1,812.2 C220.9,810.0 222.7,807.8 224.6,805.5 C226.4,803.3 228.3,801.0 230.1,798.7 C231.9,796.4 233.8,794.1 235.6,791.7 C237.5,789.4 239.3,787.0 241.1,784.7 C243.0,782.3 244.8,780.0 246.7,777.6 C248.5,775.2 250.3,772.8 252.2,770.5 C254.0,768.1 255.8,765.7 257.7,763.3 C259.5,761.0 261.4,758.6 263.2,756.2 C265.0,753.9 266.9,751.5 268.7,749.2 C270.6,746.8 272.4,744.5 274.2,742.2 C276.1,739.9 277.9,737.6 279.8,735.3 C281.6,733.1 283.4,730.8 285.3,728.6 C287.1,726.4 288.9,724.1 290.8,722.0 C292.6,719.8 294.5,717.6 296.3,715.5 C298.1,713.3 300.0,711.2 301.8,709.1 C303.7,707.0 305.5,705.0 307.3,703.0 C309.2,700.9 311.0,698.9 312.9,697.0 C314.7,695.0 316.5,693.1 318.4,691.2 C320.2,689.3 322.1,687.4 323.9,685.6 C325.7,683.8 327.6,682.0 329.4,680.2 C331.2,678.5 333.1,676.8 334.9,675.1 C336.8,673.5 338.6,671.8 340.4,670.3 C342.3,668.7 344.1,667.2 346.0,665.7 C347.8,664.2 349.6,662.7 351.5,661.4 C353.3,660.0 355.2,658.6 357.0,657.3 C358.8,656.0 360.7,654.8 362.5,653.6 C364.3,652.4 366.2,651.2 368.0,650.1 C369.9,649.0 371.7,647.9 373.5,646.9 C375.4,645.9 377.2,644.9 379.1,643.9 C380.9,643.0 382.7,642.1 384.6,641.2 C386.4,640.3 388.3,639.5 390.1,638.7 C391.9,637.9 393.8,637.2 395.6,636.4 C397.4,635.7 399.3,635.0 401.1,634.4 C403.0,633.7 404.8,633.1 406.6,632.5 C408.5,631.9 410.3,631.3 412.2,630.8 C414.0,630.3 415.8,629.8 417.7,629.3 C419.5,628.8 421.4,628.4 423.2,628.0 C425.0,627.6 426.9,627.2 428.7,626.8 C430.6,626.4 432.4,626.1 434.2,625.8 C436.1,625.4 437.9,625.1 439.7,624.9 C441.6,624.6 443.4,624.3 445.3,624.1 C447.1,623.8 448.9,623.6 450.8,623.4 C452.6,623.2 454.5,623.0 456.3,622.9 C458.1,622.7 460.0,622.5 461.8,622.4 C463.7,622.3 465.5,622.1 467.3,622.0 C469.2,621.9 471.0,621.8 472.8,621.7 C474.7,621.6 476.5,621.6 478.4,621.5 C480.2,621.4 482.0,621.4 483.9,621.3 C485.7,621.2 487.6,621.2 489.4,621.2 C491.2,621.1 493.1,621.1 494.9,621.0 C496.8,621.0 498.6,621.0 500.4,621.0 C502.3,620.9 504.1,620.9 505.9,620.9 C507.8,620.8 509.6,620.8 511.5,620.8 C513.3,620.8 515.1,620.7 517.0,620.7 C518.8,620.7 521.6,620.6 522.5,620.6 L522.5,838.6 L197.0,838.6 Z" fill="rgba(170,170,170,0.33)"/>
<clipPath id="ccb"><path d="M197.0,837.0 C197.9,836.0 200.7,833.2 202.5,831.2 C204.4,829.2 206.2,827.1 208.0,825.1 C209.9,823.0 211.7,820.9 213.6,818.7 C215.4,816.6 217.2,814.4 219.1,812.2 C220.9,810.0 222.7,807.8 224.6,805.5 C226.4,803.3 228.3,801.0 230.1,798.7 C231.9,796.4 233.8,794.1 235.6,791.7 C237.5,789.4 239.3,787.0 241.1,784.7 C243.0,782.3 244.8,780.0 246.7,777.6 C248.5,775.2 250.3,772.8 252.2,770.5 C254.0,768.1 255.8,765.7 257.7,763.3 C259.5,761.0 261.4,758.6 263.2,756.2 C265.0,753.9 266.9,751.5 268.7,749.2 C270.6,746.8 272.4,744.5 274.2,742.2 C276.1,739.9 277.9,737.6 279.8,735.3 C281.6,733.1 283.4,730.8 285.3,728.6 C287.1,726.4 288.9,724.1 290.8,722.0 C292.6,719.8 294.5,717.6 296.3,715.5 C298.1,713.3 300.0,711.2 301.8,709.1 C303.7,707.0 305.5,705.0 307.3,703.0 C309.2,700.9 311.0,698.9 312.9,697.0 C314.7,695.0 316.5,693.1 318.4,691.2 C320.2,689.3 322.1,687.4 323.9,685.6 C325.7,683.8 327.6,682.0 329.4,680.2 C331.2,678.5 333.1,676.8 334.9,675.1 C336.8,673.5 338.6,671.8 340.4,670.3 C342.3,668.7 344.1,667.2 346.0,665.7 C347.8,664.2 349.6,662.7 351.5,661.4 C353.3,660.0 355.2,658.6 357.0,657.3 C358.8,656.0 360.7,654.8 362.5,653.6 C364.3,652.4 366.2,651.2 368.0,650.1 C369.9,649.0 371.7,647.9 373.5,646.9 C375.4,645.9 377.2,644.9 379.1,643.9 C380.9,643.0 382.7,642.1 384.6,641.2 C386.4,640.3 388.3,639.5 390.1,638.7 C391.9,637.9 393.8,637.2 395.6,636.4 C397.4,635.7 399.3,635.0 401.1,634.4 C403.0,633.7 404.8,633.1 406.6,632.5 C408.5,631.9 410.3,631.3 412.2,630.8 C414.0,630.3 415.8,629.8 417.7,629.3 C419.5,628.8 421.4,628.4 423.2,628.0 C425.0,627.6 426.9,627.2 428.7,626.8 C430.6,626.4 432.4,626.1 434.2,625.8 C436.1,625.4 437.9,625.1 439.7,624.9 C441.6,624.6 443.4,624.3 445.3,624.1 C447.1,623.8 448.9,623.6 450.8,623.4 C452.6,623.2 454.5,623.0 456.3,622.9 C458.1,622.7 460.0,622.5 461.8,622.4 C463.7,622.3 465.5,622.1 467.3,622.0 C469.2,621.9 471.0,621.8 472.8,621.7 C474.7,621.6 476.5,621.6 478.4,621.5 C480.2,621.4 482.0,621.4 483.9,621.3 C485.7,621.2 487.6,621.2 489.4,621.2 C491.2,621.1 493.1,621.1 494.9,621.0 C496.8,621.0 498.6,621.0 500.4,621.0 C502.3,620.9 504.1,620.9 505.9,620.9 C507.8,620.8 509.6,620.8 511.5,620.8 C513.3,620.8 515.1,620.7 517.0,620.7 C518.8,620.7 521.6,620.6 522.5,620.6 L522.5,838.6 L197.0,838.6 Z"/></clipPath><g clip-path="url(#ccb)"><path d="M-54.1,615 L175.6,839 M170.3,615 L-59.4,839 M-40.2,615 L189.5,839 M184.2,615 L-45.5,839 M-26.3,615 L203.4,839 M198.1,615 L-31.6,839 M-12.4,615 L217.3,839 M212.0,615 L-17.7,839 M1.5,615 L231.2,839 M225.9,615 L-3.8,839 M15.4,615 L245.1,839 M239.8,615 L10.1,839 M29.3,615 L259.0,839 M253.7,615 L24.0,839 M43.2,615 L272.9,839 M267.6,615 L37.9,839 M57.1,615 L286.8,839 M281.5,615 L51.8,839 M71.0,615 L300.7,839 M295.4,615 L65.7,839 M84.9,615 L314.6,839 M309.3,615 L79.6,839 M98.8,615 L328.5,839 M323.2,615 L93.5,839 M112.7,615 L342.4,839 M337.1,615 L107.4,839 M126.6,615 L356.3,839 M351.0,615 L121.3,839 M140.5,615 L370.2,839 M364.9,615 L135.2,839 M154.4,615 L384.1,839 M378.8,615 L149.1,839 M168.3,615 L398.0,839 M392.7,615 L163.0,839 M182.2,615 L411.9,839 M406.6,615 L176.9,839 M196.1,615 L425.8,839 M420.5,615 L190.8,839 M210.0,615 L439.7,839 M434.4,615 L204.7,839 M223.9,615 L453.6,839 M448.3,615 L218.6,839 M237.8,615 L467.5,839 M462.2,615 L232.5,839 M251.7,615 L481.4,839 M476.1,615 L246.4,839 M265.6,615 L495.3,839 M490.0,615 L260.3,839 M279.5,615 L509.2,839 M503.9,615 L274.2,839 M293.4,615 L523.1,839 M517.8,615 L288.1,839 M307.3,615 L537.0,839 M531.7,615 L302.0,839 M321.2,615 L550.9,839 M545.6,615 L315.9,839 M335.1,615 L564.8,839 M559.5,615 L329.8,839 M349.0,615 L578.7,839 M573.4,615 L343.7,839 M362.9,615 L592.6,839 M587.3,615 L357.6,839 M376.8,615 L606.5,839 M601.2,615 L371.5,839 M390.7,615 L620.4,839 M615.1,615 L385.4,839 M404.6,615 L634.3,839 M629.0,615 L399.3,839 M418.5,615 L648.2,839 M642.9,615 L413.2,839 M432.4,615 L662.1,839 M656.8,615 L427.1,839 M446.3,615 L676.0,839 M670.7,615 L441.0,839 M460.2,615 L689.9,839 M684.6,615 L454.9,839 M474.1,615 L703.8,839 M698.5,615 L468.8,839 M488.0,615 L717.7,839 M712.4,615 L482.7,839 M501.9,615 L731.6,839 M726.3,615 L496.6,839 M515.8,615 L745.5,839 M740.2,615 L510.5,839 M529.7,615 L759.4,839 M754.1,615 L524.4,839 M543.6,615 L773.3,839 M768.0,615 L538.3,839 M557.5,615 L787.2,839 M781.9,615 L552.2,839" fill="none" stroke="#2a2a2a" stroke-opacity="0.8" stroke-width="1.0"/></g>
<g clip-path="url(#ccb)"><g clip-path="url(#cpb)"><path d="M-54.1,615 L175.6,839 M170.3,615 L-59.4,839 M-40.2,615 L189.5,839 M184.2,615 L-45.5,839 M-26.3,615 L203.4,839 M198.1,615 L-31.6,839 M-12.4,615 L217.3,839 M212.0,615 L-17.7,839 M1.5,615 L231.2,839 M225.9,615 L-3.8,839 M15.4,615 L245.1,839 M239.8,615 L10.1,839 M29.3,615 L259.0,839 M253.7,615 L24.0,839 M43.2,615 L272.9,839 M267.6,615 L37.9,839 M57.1,615 L286.8,839 M281.5,615 L51.8,839 M71.0,615 L300.7,839 M295.4,615 L65.7,839 M84.9,615 L314.6,839 M309.3,615 L79.6,839 M98.8,615 L328.5,839 M323.2,615 L93.5,839 M112.7,615 L342.4,839 M337.1,615 L107.4,839 M126.6,615 L356.3,839 M351.0,615 L121.3,839 M140.5,615 L370.2,839 M364.9,615 L135.2,839 M154.4,615 L384.1,839 M378.8,615 L149.1,839 M168.3,615 L398.0,839 M392.7,615 L163.0,839 M182.2,615 L411.9,839 M406.6,615 L176.9,839 M196.1,615 L425.8,839 M420.5,615 L190.8,839 M210.0,615 L439.7,839 M434.4,615 L204.7,839 M223.9,615 L453.6,839 M448.3,615 L218.6,839 M237.8,615 L467.5,839 M462.2,615 L232.5,839 M251.7,615 L481.4,839 M476.1,615 L246.4,839 M265.6,615 L495.3,839 M490.0,615 L260.3,839 M279.5,615 L509.2,839 M503.9,615 L274.2,839 M293.4,615 L523.1,839 M517.8,615 L288.1,839 M307.3,615 L537.0,839 M531.7,615 L302.0,839 M321.2,615 L550.9,839 M545.6,615 L315.9,839 M335.1,615 L564.8,839 M559.5,615 L329.8,839 M349.0,615 L578.7,839 M573.4,615 L343.7,839 M362.9,615 L592.6,839 M587.3,615 L357.6,839 M376.8,615 L606.5,839 M601.2,615 L371.5,839 M390.7,615 L620.4,839 M615.1,615 L385.4,839 M404.6,615 L634.3,839 M629.0,615 L399.3,839 M418.5,615 L648.2,839 M642.9,615 L413.2,839 M432.4,615 L662.1,839 M656.8,615 L427.1,839 M446.3,615 L676.0,839 M670.7,615 L441.0,839 M460.2,615 L689.9,839 M684.6,615 L454.9,839 M474.1,615 L703.8,839 M698.5,615 L468.8,839 M488.0,615 L717.7,839 M712.4,615 L482.7,839 M501.9,615 L731.6,839 M726.3,615 L496.6,839 M515.8,615 L745.5,839 M740.2,615 L510.5,839 M529.7,615 L759.4,839 M754.1,615 L524.4,839 M543.6,615 L773.3,839 M768.0,615 L538.3,839 M557.5,615 L787.2,839 M781.9,615 L552.2,839" fill="none" stroke="#dcdcdc" stroke-opacity="0.45" stroke-width="1.3"/></g></g>
<path d="M197.0,837.0 C197.9,836.0 200.7,833.2 202.5,831.2 C204.4,829.2 206.2,827.1 208.0,825.1 C209.9,823.0 211.7,820.9 213.6,818.7 C215.4,816.6 217.2,814.4 219.1,812.2 C220.9,810.0 222.7,807.8 224.6,805.5 C226.4,803.3 228.3,801.0 230.1,798.7 C231.9,796.4 233.8,794.1 235.6,791.7 C237.5,789.4 239.3,787.0 241.1,784.7 C243.0,782.3 244.8,780.0 246.7,777.6 C248.5,775.2 250.3,772.8 252.2,770.5 C254.0,768.1 255.8,765.7 257.7,763.3 C259.5,761.0 261.4,758.6 263.2,756.2 C265.0,753.9 266.9,751.5 268.7,749.2 C270.6,746.8 272.4,744.5 274.2,742.2 C276.1,739.9 277.9,737.6 279.8,735.3 C281.6,733.1 283.4,730.8 285.3,728.6 C287.1,726.4 288.9,724.1 290.8,722.0 C292.6,719.8 294.5,717.6 296.3,715.5 C298.1,713.3 300.0,711.2 301.8,709.1 C303.7,707.0 305.5,705.0 307.3,703.0 C309.2,700.9 311.0,698.9 312.9,697.0 C314.7,695.0 316.5,693.1 318.4,691.2 C320.2,689.3 322.1,687.4 323.9,685.6 C325.7,683.8 327.6,682.0 329.4,680.2 C331.2,678.5 333.1,676.8 334.9,675.1 C336.8,673.5 338.6,671.8 340.4,670.3 C342.3,668.7 344.1,667.2 346.0,665.7 C347.8,664.2 349.6,662.7 351.5,661.4 C353.3,660.0 355.2,658.6 357.0,657.3 C358.8,656.0 360.7,654.8 362.5,653.6 C364.3,652.4 366.2,651.2 368.0,650.1 C369.9,649.0 371.7,647.9 373.5,646.9 C375.4,645.9 377.2,644.9 379.1,643.9 C380.9,643.0 382.7,642.1 384.6,641.2 C386.4,640.3 388.3,639.5 390.1,638.7 C391.9,637.9 393.8,637.2 395.6,636.4 C397.4,635.7 399.3,635.0 401.1,634.4 C403.0,633.7 404.8,633.1 406.6,632.5 C408.5,631.9 410.3,631.3 412.2,630.8 C414.0,630.3 415.8,629.8 417.7,629.3 C419.5,628.8 421.4,628.4 423.2,628.0 C425.0,627.6 426.9,627.2 428.7,626.8 C430.6,626.4 432.4,626.1 434.2,625.8 C436.1,625.4 437.9,625.1 439.7,624.9 C441.6,624.6 443.4,624.3 445.3,624.1 C447.1,623.8 448.9,623.6 450.8,623.4 C452.6,623.2 454.5,623.0 456.3,622.9 C458.1,622.7 460.0,622.5 461.8,622.4 C463.7,622.3 465.5,622.1 467.3,622.0 C469.2,621.9 471.0,621.8 472.8,621.7 C474.7,621.6 476.5,621.6 478.4,621.5 C480.2,621.4 482.0,621.4 483.9,621.3 C485.7,621.2 487.6,621.2 489.4,621.2 C491.2,621.1 493.1,621.1 494.9,621.0 C496.8,621.0 498.6,621.0 500.4,621.0 C502.3,620.9 504.1,620.9 505.9,620.9 C507.8,620.8 509.6,620.8 511.5,620.8 C513.3,620.8 515.1,620.7 517.0,620.7 C518.8,620.7 521.6,620.6 522.5,620.6 L522.5,838.6" fill="none" stroke="#626262" stroke-width="3.6" stroke-dasharray="17 11.5 2 11.5" stroke-linecap="round"/>
<g clip-path="url(#cpb)"><path d="M197.0,837.0 C197.9,836.0 200.7,833.2 202.5,831.2 C204.4,829.2 206.2,827.1 208.0,825.1 C209.9,823.0 211.7,820.9 213.6,818.7 C215.4,816.6 217.2,814.4 219.1,812.2 C220.9,810.0 222.7,807.8 224.6,805.5 C226.4,803.3 228.3,801.0 230.1,798.7 C231.9,796.4 233.8,794.1 235.6,791.7 C237.5,789.4 239.3,787.0 241.1,784.7 C243.0,782.3 244.8,780.0 246.7,777.6 C248.5,775.2 250.3,772.8 252.2,770.5 C254.0,768.1 255.8,765.7 257.7,763.3 C259.5,761.0 261.4,758.6 263.2,756.2 C265.0,753.9 266.9,751.5 268.7,749.2 C270.6,746.8 272.4,744.5 274.2,742.2 C276.1,739.9 277.9,737.6 279.8,735.3 C281.6,733.1 283.4,730.8 285.3,728.6 C287.1,726.4 288.9,724.1 290.8,722.0 C292.6,719.8 294.5,717.6 296.3,715.5 C298.1,713.3 300.0,711.2 301.8,709.1 C303.7,707.0 305.5,705.0 307.3,703.0 C309.2,700.9 311.0,698.9 312.9,697.0 C314.7,695.0 316.5,693.1 318.4,691.2 C320.2,689.3 322.1,687.4 323.9,685.6 C325.7,683.8 327.6,682.0 329.4,680.2 C331.2,678.5 333.1,676.8 334.9,675.1 C336.8,673.5 338.6,671.8 340.4,670.3 C342.3,668.7 344.1,667.2 346.0,665.7 C347.8,664.2 349.6,662.7 351.5,661.4 C353.3,660.0 355.2,658.6 357.0,657.3 C358.8,656.0 360.7,654.8 362.5,653.6 C364.3,652.4 366.2,651.2 368.0,650.1 C369.9,649.0 371.7,647.9 373.5,646.9 C375.4,645.9 377.2,644.9 379.1,643.9 C380.9,643.0 382.7,642.1 384.6,641.2 C386.4,640.3 388.3,639.5 390.1,638.7 C391.9,637.9 393.8,637.2 395.6,636.4 C397.4,635.7 399.3,635.0 401.1,634.4 C403.0,633.7 404.8,633.1 406.6,632.5 C408.5,631.9 410.3,631.3 412.2,630.8 C414.0,630.3 415.8,629.8 417.7,629.3 C419.5,628.8 421.4,628.4 423.2,628.0 C425.0,627.6 426.9,627.2 428.7,626.8 C430.6,626.4 432.4,626.1 434.2,625.8 C436.1,625.4 437.9,625.1 439.7,624.9 C441.6,624.6 443.4,624.3 445.3,624.1 C447.1,623.8 448.9,623.6 450.8,623.4 C452.6,623.2 454.5,623.0 456.3,622.9 C458.1,622.7 460.0,622.5 461.8,622.4 C463.7,622.3 465.5,622.1 467.3,622.0 C469.2,621.9 471.0,621.8 472.8,621.7 C474.7,621.6 476.5,621.6 478.4,621.5 C480.2,621.4 482.0,621.4 483.9,621.3 C485.7,621.2 487.6,621.2 489.4,621.2 C491.2,621.1 493.1,621.1 494.9,621.0 C496.8,621.0 498.6,621.0 500.4,621.0 C502.3,620.9 504.1,620.9 505.9,620.9 C507.8,620.8 509.6,620.8 511.5,620.8 C513.3,620.8 515.1,620.7 517.0,620.7 C518.8,620.7 521.6,620.6 522.5,620.6" fill="none" stroke="#d9d9d9" stroke-opacity="0.6" stroke-width="3.2" stroke-dasharray="17 11.5 2 11.5" stroke-linecap="round"/></g>
<path d="M94.0,807.6 C94.9,807.6 97.6,807.5 99.4,807.5 C101.2,807.5 103.0,807.4 104.8,807.4 C106.7,807.4 108.5,807.4 110.3,807.4 C112.1,807.4 113.9,807.4 115.7,807.4 C117.5,807.4 119.3,807.4 121.1,807.4 C122.9,807.4 124.7,807.4 126.5,807.4 C128.4,807.4 130.2,807.5 132.0,807.5 C133.8,807.5 135.6,807.5 137.4,807.5 C139.2,807.5 141.0,807.6 142.8,807.6 C144.6,807.6 146.4,807.6 148.2,807.6 C150.0,807.6 151.9,807.7 153.7,807.7 C155.5,807.7 157.3,807.7 159.1,807.7 C160.9,807.7 162.7,807.7 164.5,807.7 C166.3,807.7 168.1,807.7 169.9,807.7 C171.7,807.7 173.6,807.7 175.4,807.7 C177.2,807.7 179.0,807.6 180.8,807.6 C182.6,807.6 184.4,807.6 186.2,807.5 C188.0,807.5 189.8,807.4 191.6,807.4 C193.4,807.3 195.2,807.3 197.1,807.2 C198.9,807.1 200.7,807.0 202.5,806.9 C204.3,806.8 206.1,806.7 207.9,806.6 C209.7,806.5 211.5,806.4 213.3,806.3 C215.1,806.1 216.9,806.0 218.8,805.8 C220.6,805.7 222.4,805.5 224.2,805.3 C226.0,805.2 227.8,805.0 229.6,804.8 C231.4,804.5 233.2,804.3 235.0,804.1 C236.8,803.8 238.6,803.6 240.4,803.3 C242.3,803.0 244.1,802.7 245.9,802.4 C247.7,802.0 249.5,801.6 251.3,801.2 C253.1,800.8 254.9,800.3 256.7,799.8 C258.5,799.3 260.3,798.7 262.1,798.1 C264.0,797.5 265.8,796.8 267.6,796.1 C269.4,795.4 271.2,794.6 273.0,793.7 C274.8,792.8 276.6,791.9 278.4,790.9 C280.2,789.9 282.0,788.8 283.8,787.6 C285.6,786.4 287.5,785.2 289.3,783.8 C291.1,782.5 292.9,781.0 294.7,779.4 C296.5,777.9 298.3,776.2 300.1,774.4 C301.9,772.5 303.7,770.6 305.5,768.5 C307.3,766.4 309.2,764.1 311.0,761.6 C312.8,759.2 314.6,756.5 316.4,753.8 C318.2,751.0 320.0,748.0 321.8,745.0 C323.6,742.0 325.4,738.8 327.2,735.7 C329.0,732.5 330.9,729.3 332.7,726.1 C334.5,722.8 336.3,719.6 338.1,716.2 C339.9,712.8 341.7,709.4 343.5,705.8 C345.3,702.1 347.1,698.4 348.9,694.5 C350.7,690.7 352.5,686.6 354.4,682.5 C356.2,678.4 358.0,674.2 359.8,669.9 C361.6,665.7 363.4,661.4 365.2,657.1 C367.0,652.8 368.8,648.4 370.6,644.1 C372.4,639.8 374.2,635.5 376.1,631.3 C377.9,627.1 379.7,622.8 381.5,618.7 C383.3,614.6 385.1,610.5 386.9,606.5 C388.7,602.6 390.5,598.6 392.3,594.9 C394.1,591.2 395.9,587.5 397.7,584.2 C399.6,581.0 401.4,577.9 403.2,575.2 C405.0,572.5 406.8,570.1 408.6,567.9 C410.4,565.8 412.2,563.9 414.0,562.3 C415.8,560.7 417.6,559.3 419.4,558.3 C421.3,557.3 423.1,556.5 424.9,556.0 C426.7,555.6 428.5,555.4 430.3,555.6 C432.1,555.7 433.9,556.2 435.7,556.9 C437.5,557.7 439.3,558.7 441.1,560.0 C442.9,561.3 444.8,562.9 446.6,564.7 C448.4,566.5 450.2,568.5 452.0,570.8 C453.8,573.0 455.6,575.5 457.4,578.2 C459.2,580.8 461.0,583.7 462.8,586.7 C464.6,589.7 466.5,592.9 468.3,596.2 C470.1,599.5 471.9,603.0 473.7,606.5 C475.5,610.1 477.3,613.8 479.1,617.5 C480.9,621.3 482.7,625.2 484.5,629.1 C486.3,633.0 488.1,637.0 490.0,641.0 C491.8,645.0 493.6,649.1 495.4,653.2 C497.2,657.3 499.0,661.4 500.8,665.5 C502.6,669.6 504.4,673.7 506.2,677.7 C508.0,681.7 509.8,685.8 511.7,689.7 C513.5,693.6 515.3,697.6 517.1,701.4 C518.9,705.2 521.6,710.6 522.5,712.5 L522.5,838.6 L94.0,838.6 Z" fill="rgba(255,0,0,0.30)"/>
<clipPath id="crb"><path d="M94.0,807.6 C94.9,807.6 97.6,807.5 99.4,807.5 C101.2,807.5 103.0,807.4 104.8,807.4 C106.7,807.4 108.5,807.4 110.3,807.4 C112.1,807.4 113.9,807.4 115.7,807.4 C117.5,807.4 119.3,807.4 121.1,807.4 C122.9,807.4 124.7,807.4 126.5,807.4 C128.4,807.4 130.2,807.5 132.0,807.5 C133.8,807.5 135.6,807.5 137.4,807.5 C139.2,807.5 141.0,807.6 142.8,807.6 C144.6,807.6 146.4,807.6 148.2,807.6 C150.0,807.6 151.9,807.7 153.7,807.7 C155.5,807.7 157.3,807.7 159.1,807.7 C160.9,807.7 162.7,807.7 164.5,807.7 C166.3,807.7 168.1,807.7 169.9,807.7 C171.7,807.7 173.6,807.7 175.4,807.7 C177.2,807.7 179.0,807.6 180.8,807.6 C182.6,807.6 184.4,807.6 186.2,807.5 C188.0,807.5 189.8,807.4 191.6,807.4 C193.4,807.3 195.2,807.3 197.1,807.2 C198.9,807.1 200.7,807.0 202.5,806.9 C204.3,806.8 206.1,806.7 207.9,806.6 C209.7,806.5 211.5,806.4 213.3,806.3 C215.1,806.1 216.9,806.0 218.8,805.8 C220.6,805.7 222.4,805.5 224.2,805.3 C226.0,805.2 227.8,805.0 229.6,804.8 C231.4,804.5 233.2,804.3 235.0,804.1 C236.8,803.8 238.6,803.6 240.4,803.3 C242.3,803.0 244.1,802.7 245.9,802.4 C247.7,802.0 249.5,801.6 251.3,801.2 C253.1,800.8 254.9,800.3 256.7,799.8 C258.5,799.3 260.3,798.7 262.1,798.1 C264.0,797.5 265.8,796.8 267.6,796.1 C269.4,795.4 271.2,794.6 273.0,793.7 C274.8,792.8 276.6,791.9 278.4,790.9 C280.2,789.9 282.0,788.8 283.8,787.6 C285.6,786.4 287.5,785.2 289.3,783.8 C291.1,782.5 292.9,781.0 294.7,779.4 C296.5,777.9 298.3,776.2 300.1,774.4 C301.9,772.5 303.7,770.6 305.5,768.5 C307.3,766.4 309.2,764.1 311.0,761.6 C312.8,759.2 314.6,756.5 316.4,753.8 C318.2,751.0 320.0,748.0 321.8,745.0 C323.6,742.0 325.4,738.8 327.2,735.7 C329.0,732.5 330.9,729.3 332.7,726.1 C334.5,722.8 336.3,719.6 338.1,716.2 C339.9,712.8 341.7,709.4 343.5,705.8 C345.3,702.1 347.1,698.4 348.9,694.5 C350.7,690.7 352.5,686.6 354.4,682.5 C356.2,678.4 358.0,674.2 359.8,669.9 C361.6,665.7 363.4,661.4 365.2,657.1 C367.0,652.8 368.8,648.4 370.6,644.1 C372.4,639.8 374.2,635.5 376.1,631.3 C377.9,627.1 379.7,622.8 381.5,618.7 C383.3,614.6 385.1,610.5 386.9,606.5 C388.7,602.6 390.5,598.6 392.3,594.9 C394.1,591.2 395.9,587.5 397.7,584.2 C399.6,581.0 401.4,577.9 403.2,575.2 C405.0,572.5 406.8,570.1 408.6,567.9 C410.4,565.8 412.2,563.9 414.0,562.3 C415.8,560.7 417.6,559.3 419.4,558.3 C421.3,557.3 423.1,556.5 424.9,556.0 C426.7,555.6 428.5,555.4 430.3,555.6 C432.1,555.7 433.9,556.2 435.7,556.9 C437.5,557.7 439.3,558.7 441.1,560.0 C442.9,561.3 444.8,562.9 446.6,564.7 C448.4,566.5 450.2,568.5 452.0,570.8 C453.8,573.0 455.6,575.5 457.4,578.2 C459.2,580.8 461.0,583.7 462.8,586.7 C464.6,589.7 466.5,592.9 468.3,596.2 C470.1,599.5 471.9,603.0 473.7,606.5 C475.5,610.1 477.3,613.8 479.1,617.5 C480.9,621.3 482.7,625.2 484.5,629.1 C486.3,633.0 488.1,637.0 490.0,641.0 C491.8,645.0 493.6,649.1 495.4,653.2 C497.2,657.3 499.0,661.4 500.8,665.5 C502.6,669.6 504.4,673.7 506.2,677.7 C508.0,681.7 509.8,685.8 511.7,689.7 C513.5,693.6 515.3,697.6 517.1,701.4 C518.9,705.2 521.6,710.6 522.5,712.5 L522.5,838.6 L94.0,838.6 Z"/></clipPath>
<g clip-path="url(#crb)"><path d="M94.0,837.0 C94.9,836.4 97.5,834.7 99.2,833.7 C100.9,832.6 102.7,831.6 104.4,830.6 C106.1,829.6 107.9,828.7 109.6,827.7 C111.3,826.8 113.1,825.9 114.8,824.9 C116.5,824.0 118.3,823.1 120.0,822.2 C121.7,821.3 123.5,820.4 125.2,819.4 C126.9,818.5 128.7,817.5 130.4,816.5 C132.2,815.5 133.9,814.5 135.6,813.5 C137.4,812.4 139.1,811.3 140.8,810.1 C142.6,809.0 144.3,807.8 146.0,806.5 C147.8,805.2 149.5,803.8 151.2,802.4 C153.0,801.0 154.7,799.5 156.4,797.9 C158.2,796.3 159.9,794.6 161.6,792.8 C163.4,791.0 165.1,789.1 166.8,787.0 C168.6,785.0 170.3,782.9 172.0,780.6 C173.8,778.4 175.5,776.0 177.2,773.4 C179.0,770.9 180.7,768.2 182.4,765.4 C184.2,762.5 185.9,759.6 187.6,756.4 C189.4,753.3 191.1,750.0 192.8,746.6 C194.6,743.2 196.3,739.7 198.1,736.1 C199.8,732.4 201.5,728.7 203.3,724.8 C205.0,721.0 206.7,717.0 208.5,713.0 C210.2,709.0 211.9,704.9 213.7,700.7 C215.4,696.6 217.1,692.3 218.9,688.1 C220.6,683.8 222.3,679.5 224.1,675.2 C225.8,670.9 227.5,666.6 229.3,662.3 C231.0,658.1 232.7,653.8 234.5,649.7 C236.2,645.5 237.9,641.4 239.7,637.4 C241.4,633.4 243.1,629.4 244.9,625.6 C246.6,621.8 248.3,618.0 250.1,614.3 C251.8,610.7 253.5,607.1 255.3,603.7 C257.0,600.3 258.7,597.0 260.5,593.9 C262.2,590.7 263.9,587.7 265.7,584.8 C267.4,582.0 269.2,579.2 270.9,576.7 C272.6,574.2 274.4,571.8 276.1,569.6 C277.8,567.4 279.6,565.4 281.3,563.7 C283.0,561.9 284.8,560.3 286.5,559.0 C288.2,557.7 290.0,556.6 291.7,555.8 C293.4,554.9 295.2,554.3 296.9,554.0 C298.6,553.7 300.4,553.7 302.1,553.9 C303.8,554.2 305.6,554.7 307.3,555.4 C309.0,556.2 310.8,557.2 312.5,558.4 C314.2,559.6 316.0,561.1 317.7,562.7 C319.4,564.4 321.2,566.3 322.9,568.3 C324.6,570.4 326.4,572.7 328.1,575.1 C329.8,577.6 331.6,580.2 333.3,583.0 C335.1,585.8 336.8,588.7 338.5,591.8 C340.3,594.9 342.0,598.1 343.7,601.5 C345.5,604.8 347.2,608.3 348.9,611.9 C350.7,615.4 352.4,619.1 354.1,622.9 C355.9,626.7 357.6,630.6 359.3,634.5 C361.1,638.5 362.8,642.5 364.5,646.6 C366.3,650.7 368.0,654.8 369.7,659.0 C371.5,663.2 373.2,667.4 374.9,671.6 C376.7,675.9 378.4,680.2 380.1,684.4 C381.9,688.7 383.6,692.9 385.3,697.1 C387.1,701.2 388.8,705.3 390.5,709.3 C392.3,713.3 394.0,717.2 395.7,721.0 C397.5,724.7 399.2,728.4 400.9,732.0 C402.7,735.5 404.4,739.0 406.2,742.3 C407.9,745.7 409.6,748.9 411.4,752.1 C413.1,755.2 414.8,758.2 416.6,761.1 C418.3,764.0 420.0,766.8 421.8,769.5 C423.5,772.2 425.2,774.8 427.0,777.3 C428.7,779.8 430.4,782.1 432.2,784.4 C433.9,786.6 435.6,788.8 437.4,790.9 C439.1,792.9 440.8,794.9 442.6,796.8 C444.3,798.7 446.0,800.4 447.8,802.1 C449.5,803.9 451.2,805.5 453.0,807.0 C454.7,808.6 456.4,810.0 458.2,811.5 C459.9,812.9 461.6,814.2 463.4,815.5 C465.1,816.7 466.8,817.9 468.6,819.1 C470.3,820.2 472.1,821.3 473.8,822.4 C475.5,823.4 477.3,824.4 479.0,825.3 C480.7,826.3 482.5,827.2 484.2,828.1 C485.9,828.9 487.7,829.7 489.4,830.5 C491.1,831.3 492.9,832.1 494.6,832.8 C496.3,833.6 498.1,834.3 499.8,835.0 C501.5,835.7 504.1,836.7 505.0,837.0" fill="none" stroke="#e89a9a" stroke-opacity="0.45" stroke-width="3.6" stroke-dasharray="14 24.5" stroke-linecap="round"/></g>
<path d="M94.0,807.6 C94.9,807.6 97.6,807.5 99.4,807.5 C101.2,807.5 103.0,807.4 104.8,807.4 C106.7,807.4 108.5,807.4 110.3,807.4 C112.1,807.4 113.9,807.4 115.7,807.4 C117.5,807.4 119.3,807.4 121.1,807.4 C122.9,807.4 124.7,807.4 126.5,807.4 C128.4,807.4 130.2,807.5 132.0,807.5 C133.8,807.5 135.6,807.5 137.4,807.5 C139.2,807.5 141.0,807.6 142.8,807.6 C144.6,807.6 146.4,807.6 148.2,807.6 C150.0,807.6 151.9,807.7 153.7,807.7 C155.5,807.7 157.3,807.7 159.1,807.7 C160.9,807.7 162.7,807.7 164.5,807.7 C166.3,807.7 168.1,807.7 169.9,807.7 C171.7,807.7 173.6,807.7 175.4,807.7 C177.2,807.7 179.0,807.6 180.8,807.6 C182.6,807.6 184.4,807.6 186.2,807.5 C188.0,807.5 189.8,807.4 191.6,807.4 C193.4,807.3 195.2,807.3 197.1,807.2 C198.9,807.1 200.7,807.0 202.5,806.9 C204.3,806.8 206.1,806.7 207.9,806.6 C209.7,806.5 211.5,806.4 213.3,806.3 C215.1,806.1 216.9,806.0 218.8,805.8 C220.6,805.7 222.4,805.5 224.2,805.3 C226.0,805.2 227.8,805.0 229.6,804.8 C231.4,804.5 233.2,804.3 235.0,804.1 C236.8,803.8 238.6,803.6 240.4,803.3 C242.3,803.0 244.1,802.7 245.9,802.4 C247.7,802.0 249.5,801.6 251.3,801.2 C253.1,800.8 254.9,800.3 256.7,799.8 C258.5,799.3 260.3,798.7 262.1,798.1 C264.0,797.5 265.8,796.8 267.6,796.1 C269.4,795.4 271.2,794.6 273.0,793.7 C274.8,792.8 276.6,791.9 278.4,790.9 C280.2,789.9 282.0,788.8 283.8,787.6 C285.6,786.4 287.5,785.2 289.3,783.8 C291.1,782.5 292.9,781.0 294.7,779.4 C296.5,777.9 298.3,776.2 300.1,774.4 C301.9,772.5 303.7,770.6 305.5,768.5 C307.3,766.4 309.2,764.1 311.0,761.6 C312.8,759.2 314.6,756.5 316.4,753.8 C318.2,751.0 320.0,748.0 321.8,745.0 C323.6,742.0 325.4,738.8 327.2,735.7 C329.0,732.5 330.9,729.3 332.7,726.1 C334.5,722.8 336.3,719.6 338.1,716.2 C339.9,712.8 341.7,709.4 343.5,705.8 C345.3,702.1 347.1,698.4 348.9,694.5 C350.7,690.7 352.5,686.6 354.4,682.5 C356.2,678.4 358.0,674.2 359.8,669.9 C361.6,665.7 363.4,661.4 365.2,657.1 C367.0,652.8 368.8,648.4 370.6,644.1 C372.4,639.8 374.2,635.5 376.1,631.3 C377.9,627.1 379.7,622.8 381.5,618.7 C383.3,614.6 385.1,610.5 386.9,606.5 C388.7,602.6 390.5,598.6 392.3,594.9 C394.1,591.2 395.9,587.5 397.7,584.2 C399.6,581.0 401.4,577.9 403.2,575.2 C405.0,572.5 406.8,570.1 408.6,567.9 C410.4,565.8 412.2,563.9 414.0,562.3 C415.8,560.7 417.6,559.3 419.4,558.3 C421.3,557.3 423.1,556.5 424.9,556.0 C426.7,555.6 428.5,555.4 430.3,555.6 C432.1,555.7 433.9,556.2 435.7,556.9 C437.5,557.7 439.3,558.7 441.1,560.0 C442.9,561.3 444.8,562.9 446.6,564.7 C448.4,566.5 450.2,568.5 452.0,570.8 C453.8,573.0 455.6,575.5 457.4,578.2 C459.2,580.8 461.0,583.7 462.8,586.7 C464.6,589.7 466.5,592.9 468.3,596.2 C470.1,599.5 471.9,603.0 473.7,606.5 C475.5,610.1 477.3,613.8 479.1,617.5 C480.9,621.3 482.7,625.2 484.5,629.1 C486.3,633.0 488.1,637.0 490.0,641.0 C491.8,645.0 493.6,649.1 495.4,653.2 C497.2,657.3 499.0,661.4 500.8,665.5 C502.6,669.6 504.4,673.7 506.2,677.7 C508.0,681.7 509.8,685.8 511.7,689.7 C513.5,693.6 515.3,697.6 517.1,701.4 C518.9,705.2 521.6,710.6 522.5,712.5 L522.5,838.6" fill="none" stroke="#ff3434" stroke-width="3.7" stroke-linejoin="round"/>
<g clip-path="url(#crb)"><path d="M94.0,553.6 C95.2,555.6 98.8,561.7 101.3,565.7 C103.7,569.7 106.1,573.7 108.5,577.6 C110.9,581.5 113.4,585.4 115.8,589.2 C118.2,593.1 120.6,596.9 123.1,600.6 C125.5,604.4 127.9,608.1 130.3,611.7 C132.7,615.4 135.2,619.0 137.6,622.6 C140.0,626.2 142.4,629.7 144.8,633.2 C147.3,636.7 149.7,640.1 152.1,643.5 C154.5,646.9 156.9,650.3 159.4,653.6 C161.8,656.9 164.2,660.2 166.6,663.4 C169.0,666.7 171.5,669.8 173.9,673.0 C176.3,676.1 178.7,679.2 181.2,682.3 C183.6,685.3 186.0,688.3 188.4,691.3 C190.8,694.3 193.3,697.2 195.7,700.1 C198.1,702.9 200.5,705.8 202.9,708.6 C205.4,711.3 207.8,714.1 210.2,716.8 C212.6,719.5 215.0,722.1 217.5,724.7 C219.9,727.4 222.3,729.9 224.7,732.4 C227.1,735.0 229.6,737.4 232.0,739.9 C234.4,742.3 236.8,744.7 239.3,747.0 C241.7,749.3 244.1,751.6 246.5,753.9 C248.9,756.1 251.4,758.3 253.8,760.5 C256.2,762.6 258.6,764.7 261.0,766.8 C263.5,768.9 265.9,770.9 268.3,772.8 C270.7,774.8 273.1,776.7 275.6,778.6 C278.0,780.5 280.4,782.3 282.8,784.1 C285.3,785.9 287.7,787.6 290.1,789.3 C292.5,791.0 294.9,792.7 297.4,794.3 C299.8,795.9 302.2,797.4 304.6,798.9 C307.0,800.4 309.5,801.9 311.9,803.3 C314.3,804.7 316.7,806.1 319.1,807.4 C321.6,808.7 324.0,810.0 326.4,811.2 C328.8,812.4 331.2,813.6 333.7,814.7 C336.1,815.9 338.5,816.9 340.9,818.0 C343.4,819.0 345.8,820.0 348.2,820.9 C350.6,821.9 353.0,822.8 355.5,823.6 C357.9,824.4 360.3,825.2 362.7,826.0 C365.1,826.7 367.6,827.4 370.0,828.1 C372.4,828.7 374.8,829.3 377.2,829.9 C379.7,830.4 382.1,830.9 384.5,831.4 C386.9,831.9 389.4,832.3 391.8,832.6 C394.2,833.0 396.6,833.3 399.0,833.6 C401.5,833.8 403.9,834.1 406.3,834.2 C408.7,834.4 411.1,834.5 413.6,834.6 C416.0,834.7 418.4,834.7 420.8,834.6 C423.2,834.6 425.7,834.5 428.1,834.4 C430.5,834.3 432.9,834.1 435.3,833.9 C437.8,833.7 440.2,833.4 442.6,833.1 C445.0,832.8 447.5,832.4 449.9,832.0 C452.3,831.6 454.7,831.1 457.1,830.6 C459.6,830.0 462.0,829.5 464.4,828.9 C466.8,828.2 469.2,827.6 471.7,826.9 C474.1,826.1 476.5,825.4 478.9,824.6 C481.3,823.8 483.8,822.9 486.2,822.0 C488.6,821.1 491.0,820.1 493.4,819.1 C495.9,818.1 498.3,817.0 500.7,815.9 C503.1,814.8 505.6,813.6 508.0,812.4 C510.4,811.2 512.8,809.9 515.2,808.6 C517.7,807.3 521.3,805.2 522.5,804.5" fill="none" stroke="#4a0808" stroke-opacity="0.75" stroke-width="2.1"/></g>
<path d="M310.0,838.0 C310.6,837.9 312.4,837.7 313.6,837.6 C314.8,837.4 316.0,837.2 317.2,837.1 C318.4,836.9 319.6,836.7 320.8,836.5 C322.0,836.3 323.2,836.1 324.4,835.9 C325.6,835.7 326.8,835.5 328.0,835.3 C329.2,835.1 330.4,834.9 331.6,834.6 C332.8,834.4 334.0,834.2 335.2,833.9 C336.4,833.7 337.6,833.5 338.8,833.2 C340.0,833.0 341.2,832.7 342.4,832.4 C343.6,832.1 344.8,831.9 346.0,831.5 C347.2,831.1 348.4,830.7 349.6,830.3 C350.8,829.8 352.0,829.3 353.2,828.6 C354.4,828.0 355.6,827.3 356.8,826.4 C358.0,825.6 359.2,824.6 360.4,823.5 C361.6,822.4 362.8,821.2 364.0,819.9 C365.2,818.7 366.4,817.3 367.6,815.9 C368.8,814.5 370.0,813.0 371.2,811.5 C372.4,810.0 373.6,808.4 374.8,806.9 C376.0,805.3 377.2,803.8 378.4,802.2 C379.6,800.5 380.8,798.9 382.0,797.2 C383.2,795.4 384.4,793.6 385.6,791.8 C386.8,789.9 388.0,787.9 389.2,785.8 C390.4,783.7 391.6,781.5 392.8,779.2 C394.0,776.9 395.2,774.5 396.4,772.0 C397.6,769.4 398.8,766.7 400.0,763.9 C401.2,761.1 402.4,758.1 403.6,755.1 C404.8,752.0 406.0,748.8 407.2,745.4 C408.4,742.1 409.6,738.7 410.8,735.2 C412.0,731.8 413.2,728.2 414.4,724.6 C415.6,721.0 416.9,717.3 418.1,713.7 C419.3,710.0 420.5,706.3 421.7,702.6 C422.9,698.9 424.1,695.2 425.3,691.6 C426.5,687.9 427.7,684.2 428.9,680.6 C430.1,677.0 431.3,673.4 432.5,669.8 C433.7,666.3 434.9,662.8 436.1,659.4 C437.3,655.9 438.5,652.6 439.7,649.3 C440.9,646.0 442.1,642.8 443.3,639.8 C444.5,636.7 445.7,633.7 446.9,630.8 C448.1,627.9 449.3,625.1 450.5,622.5 C451.7,619.8 452.9,617.2 454.1,614.7 C455.3,612.3 456.5,609.9 457.7,607.6 C458.9,605.3 460.1,603.1 461.3,601.0 C462.5,598.9 463.7,597.0 464.9,595.0 C466.1,593.1 467.3,591.3 468.5,589.6 C469.7,587.9 470.9,586.2 472.1,584.7 C473.3,583.1 474.5,581.6 475.7,580.2 C476.9,578.8 478.1,577.5 479.3,576.3 C480.5,575.0 481.7,573.8 482.9,572.7 C484.1,571.6 485.3,570.6 486.5,569.6 C487.7,568.6 488.9,567.7 490.1,566.8 C491.3,566.0 492.5,565.2 493.7,564.4 C494.9,563.7 496.1,563.0 497.3,562.3 C498.5,561.7 499.7,561.1 500.9,560.6 C502.1,560.0 503.3,559.5 504.5,559.1 C505.7,558.6 506.9,558.2 508.1,557.8 C509.3,557.4 510.5,557.1 511.7,556.8 C512.9,556.5 514.1,556.2 515.3,555.9 C516.5,555.7 517.7,555.5 518.9,555.2 C520.1,555.0 521.9,554.8 522.5,554.7 L522.5,838.6 L310.0,838.6 Z" fill="rgba(0,0,0,0.26)"/>
<clipPath id="ckb"><path d="M310.0,838.0 C310.6,837.9 312.4,837.7 313.6,837.6 C314.8,837.4 316.0,837.2 317.2,837.1 C318.4,836.9 319.6,836.7 320.8,836.5 C322.0,836.3 323.2,836.1 324.4,835.9 C325.6,835.7 326.8,835.5 328.0,835.3 C329.2,835.1 330.4,834.9 331.6,834.6 C332.8,834.4 334.0,834.2 335.2,833.9 C336.4,833.7 337.6,833.5 338.8,833.2 C340.0,833.0 341.2,832.7 342.4,832.4 C343.6,832.1 344.8,831.9 346.0,831.5 C347.2,831.1 348.4,830.7 349.6,830.3 C350.8,829.8 352.0,829.3 353.2,828.6 C354.4,828.0 355.6,827.3 356.8,826.4 C358.0,825.6 359.2,824.6 360.4,823.5 C361.6,822.4 362.8,821.2 364.0,819.9 C365.2,818.7 366.4,817.3 367.6,815.9 C368.8,814.5 370.0,813.0 371.2,811.5 C372.4,810.0 373.6,808.4 374.8,806.9 C376.0,805.3 377.2,803.8 378.4,802.2 C379.6,800.5 380.8,798.9 382.0,797.2 C383.2,795.4 384.4,793.6 385.6,791.8 C386.8,789.9 388.0,787.9 389.2,785.8 C390.4,783.7 391.6,781.5 392.8,779.2 C394.0,776.9 395.2,774.5 396.4,772.0 C397.6,769.4 398.8,766.7 400.0,763.9 C401.2,761.1 402.4,758.1 403.6,755.1 C404.8,752.0 406.0,748.8 407.2,745.4 C408.4,742.1 409.6,738.7 410.8,735.2 C412.0,731.8 413.2,728.2 414.4,724.6 C415.6,721.0 416.9,717.3 418.1,713.7 C419.3,710.0 420.5,706.3 421.7,702.6 C422.9,698.9 424.1,695.2 425.3,691.6 C426.5,687.9 427.7,684.2 428.9,680.6 C430.1,677.0 431.3,673.4 432.5,669.8 C433.7,666.3 434.9,662.8 436.1,659.4 C437.3,655.9 438.5,652.6 439.7,649.3 C440.9,646.0 442.1,642.8 443.3,639.8 C444.5,636.7 445.7,633.7 446.9,630.8 C448.1,627.9 449.3,625.1 450.5,622.5 C451.7,619.8 452.9,617.2 454.1,614.7 C455.3,612.3 456.5,609.9 457.7,607.6 C458.9,605.3 460.1,603.1 461.3,601.0 C462.5,598.9 463.7,597.0 464.9,595.0 C466.1,593.1 467.3,591.3 468.5,589.6 C469.7,587.9 470.9,586.2 472.1,584.7 C473.3,583.1 474.5,581.6 475.7,580.2 C476.9,578.8 478.1,577.5 479.3,576.3 C480.5,575.0 481.7,573.8 482.9,572.7 C484.1,571.6 485.3,570.6 486.5,569.6 C487.7,568.6 488.9,567.7 490.1,566.8 C491.3,566.0 492.5,565.2 493.7,564.4 C494.9,563.7 496.1,563.0 497.3,562.3 C498.5,561.7 499.7,561.1 500.9,560.6 C502.1,560.0 503.3,559.5 504.5,559.1 C505.7,558.6 506.9,558.2 508.1,557.8 C509.3,557.4 510.5,557.1 511.7,556.8 C512.9,556.5 514.1,556.2 515.3,555.9 C516.5,555.7 517.7,555.5 518.9,555.2 C520.1,555.0 521.9,554.8 522.5,554.7 L522.5,838.6 L310.0,838.6 Z"/></clipPath>
<g clip-path="url(#ckb)"><path d="M94.0,807.6 C94.9,807.6 97.6,807.5 99.4,807.5 C101.2,807.5 103.0,807.4 104.8,807.4 C106.7,807.4 108.5,807.4 110.3,807.4 C112.1,807.4 113.9,807.4 115.7,807.4 C117.5,807.4 119.3,807.4 121.1,807.4 C122.9,807.4 124.7,807.4 126.5,807.4 C128.4,807.4 130.2,807.5 132.0,807.5 C133.8,807.5 135.6,807.5 137.4,807.5 C139.2,807.5 141.0,807.6 142.8,807.6 C144.6,807.6 146.4,807.6 148.2,807.6 C150.0,807.6 151.9,807.7 153.7,807.7 C155.5,807.7 157.3,807.7 159.1,807.7 C160.9,807.7 162.7,807.7 164.5,807.7 C166.3,807.7 168.1,807.7 169.9,807.7 C171.7,807.7 173.6,807.7 175.4,807.7 C177.2,807.7 179.0,807.6 180.8,807.6 C182.6,807.6 184.4,807.6 186.2,807.5 C188.0,807.5 189.8,807.4 191.6,807.4 C193.4,807.3 195.2,807.3 197.1,807.2 C198.9,807.1 200.7,807.0 202.5,806.9 C204.3,806.8 206.1,806.7 207.9,806.6 C209.7,806.5 211.5,806.4 213.3,806.3 C215.1,806.1 216.9,806.0 218.8,805.8 C220.6,805.7 222.4,805.5 224.2,805.3 C226.0,805.2 227.8,805.0 229.6,804.8 C231.4,804.5 233.2,804.3 235.0,804.1 C236.8,803.8 238.6,803.6 240.4,803.3 C242.3,803.0 244.1,802.7 245.9,802.4 C247.7,802.0 249.5,801.6 251.3,801.2 C253.1,800.8 254.9,800.3 256.7,799.8 C258.5,799.3 260.3,798.7 262.1,798.1 C264.0,797.5 265.8,796.8 267.6,796.1 C269.4,795.4 271.2,794.6 273.0,793.7 C274.8,792.8 276.6,791.9 278.4,790.9 C280.2,789.9 282.0,788.8 283.8,787.6 C285.6,786.4 287.5,785.2 289.3,783.8 C291.1,782.5 292.9,781.0 294.7,779.4 C296.5,777.9 298.3,776.2 300.1,774.4 C301.9,772.5 303.7,770.6 305.5,768.5 C307.3,766.4 309.2,764.1 311.0,761.6 C312.8,759.2 314.6,756.5 316.4,753.8 C318.2,751.0 320.0,748.0 321.8,745.0 C323.6,742.0 325.4,738.8 327.2,735.7 C329.0,732.5 330.9,729.3 332.7,726.1 C334.5,722.8 336.3,719.6 338.1,716.2 C339.9,712.8 341.7,709.4 343.5,705.8 C345.3,702.1 347.1,698.4 348.9,694.5 C350.7,690.7 352.5,686.6 354.4,682.5 C356.2,678.4 358.0,674.2 359.8,669.9 C361.6,665.7 363.4,661.4 365.2,657.1 C367.0,652.8 368.8,648.4 370.6,644.1 C372.4,639.8 374.2,635.5 376.1,631.3 C377.9,627.1 379.7,622.8 381.5,618.7 C383.3,614.6 385.1,610.5 386.9,606.5 C388.7,602.6 390.5,598.6 392.3,594.9 C394.1,591.2 395.9,587.5 397.7,584.2 C399.6,581.0 401.4,577.9 403.2,575.2 C405.0,572.5 406.8,570.1 408.6,567.9 C410.4,565.8 412.2,563.9 414.0,562.3 C415.8,560.7 417.6,559.3 419.4,558.3 C421.3,557.3 423.1,556.5 424.9,556.0 C426.7,555.6 428.5,555.4 430.3,555.6 C432.1,555.7 433.9,556.2 435.7,556.9 C437.5,557.7 439.3,558.7 441.1,560.0 C442.9,561.3 444.8,562.9 446.6,564.7 C448.4,566.5 450.2,568.5 452.0,570.8 C453.8,573.0 455.6,575.5 457.4,578.2 C459.2,580.8 461.0,583.7 462.8,586.7 C464.6,589.7 466.5,592.9 468.3,596.2 C470.1,599.5 471.9,603.0 473.7,606.5 C475.5,610.1 477.3,613.8 479.1,617.5 C480.9,621.3 482.7,625.2 484.5,629.1 C486.3,633.0 488.1,637.0 490.0,641.0 C491.8,645.0 493.6,649.1 495.4,653.2 C497.2,657.3 499.0,661.4 500.8,665.5 C502.6,669.6 504.4,673.7 506.2,677.7 C508.0,681.7 509.8,685.8 511.7,689.7 C513.5,693.6 515.3,697.6 517.1,701.4 C518.9,705.2 521.6,710.6 522.5,712.5 L522.5,838.6 L94.0,838.6 Z" fill="rgba(70,0,0,0.25)"/></g>
<g clip-path="url(#ckb)"><path d="M94.0,807.6 C94.9,807.6 97.6,807.5 99.4,807.5 C101.2,807.5 103.0,807.4 104.8,807.4 C106.7,807.4 108.5,807.4 110.3,807.4 C112.1,807.4 113.9,807.4 115.7,807.4 C117.5,807.4 119.3,807.4 121.1,807.4 C122.9,807.4 124.7,807.4 126.5,807.4 C128.4,807.4 130.2,807.5 132.0,807.5 C133.8,807.5 135.6,807.5 137.4,807.5 C139.2,807.5 141.0,807.6 142.8,807.6 C144.6,807.6 146.4,807.6 148.2,807.6 C150.0,807.6 151.9,807.7 153.7,807.7 C155.5,807.7 157.3,807.7 159.1,807.7 C160.9,807.7 162.7,807.7 164.5,807.7 C166.3,807.7 168.1,807.7 169.9,807.7 C171.7,807.7 173.6,807.7 175.4,807.7 C177.2,807.7 179.0,807.6 180.8,807.6 C182.6,807.6 184.4,807.6 186.2,807.5 C188.0,807.5 189.8,807.4 191.6,807.4 C193.4,807.3 195.2,807.3 197.1,807.2 C198.9,807.1 200.7,807.0 202.5,806.9 C204.3,806.8 206.1,806.7 207.9,806.6 C209.7,806.5 211.5,806.4 213.3,806.3 C215.1,806.1 216.9,806.0 218.8,805.8 C220.6,805.7 222.4,805.5 224.2,805.3 C226.0,805.2 227.8,805.0 229.6,804.8 C231.4,804.5 233.2,804.3 235.0,804.1 C236.8,803.8 238.6,803.6 240.4,803.3 C242.3,803.0 244.1,802.7 245.9,802.4 C247.7,802.0 249.5,801.6 251.3,801.2 C253.1,800.8 254.9,800.3 256.7,799.8 C258.5,799.3 260.3,798.7 262.1,798.1 C264.0,797.5 265.8,796.8 267.6,796.1 C269.4,795.4 271.2,794.6 273.0,793.7 C274.8,792.8 276.6,791.9 278.4,790.9 C280.2,789.9 282.0,788.8 283.8,787.6 C285.6,786.4 287.5,785.2 289.3,783.8 C291.1,782.5 292.9,781.0 294.7,779.4 C296.5,777.9 298.3,776.2 300.1,774.4 C301.9,772.5 303.7,770.6 305.5,768.5 C307.3,766.4 309.2,764.1 311.0,761.6 C312.8,759.2 314.6,756.5 316.4,753.8 C318.2,751.0 320.0,748.0 321.8,745.0 C323.6,742.0 325.4,738.8 327.2,735.7 C329.0,732.5 330.9,729.3 332.7,726.1 C334.5,722.8 336.3,719.6 338.1,716.2 C339.9,712.8 341.7,709.4 343.5,705.8 C345.3,702.1 347.1,698.4 348.9,694.5 C350.7,690.7 352.5,686.6 354.4,682.5 C356.2,678.4 358.0,674.2 359.8,669.9 C361.6,665.7 363.4,661.4 365.2,657.1 C367.0,652.8 368.8,648.4 370.6,644.1 C372.4,639.8 374.2,635.5 376.1,631.3 C377.9,627.1 379.7,622.8 381.5,618.7 C383.3,614.6 385.1,610.5 386.9,606.5 C388.7,602.6 390.5,598.6 392.3,594.9 C394.1,591.2 395.9,587.5 397.7,584.2 C399.6,581.0 401.4,577.9 403.2,575.2 C405.0,572.5 406.8,570.1 408.6,567.9 C410.4,565.8 412.2,563.9 414.0,562.3 C415.8,560.7 417.6,559.3 419.4,558.3 C421.3,557.3 423.1,556.5 424.9,556.0 C426.7,555.6 428.5,555.4 430.3,555.6 C432.1,555.7 433.9,556.2 435.7,556.9 C437.5,557.7 439.3,558.7 441.1,560.0 C442.9,561.3 444.8,562.9 446.6,564.7 C448.4,566.5 450.2,568.5 452.0,570.8 C453.8,573.0 455.6,575.5 457.4,578.2 C459.2,580.8 461.0,583.7 462.8,586.7 C464.6,589.7 466.5,592.9 468.3,596.2 C470.1,599.5 471.9,603.0 473.7,606.5 C475.5,610.1 477.3,613.8 479.1,617.5 C480.9,621.3 482.7,625.2 484.5,629.1 C486.3,633.0 488.1,637.0 490.0,641.0 C491.8,645.0 493.6,649.1 495.4,653.2 C497.2,657.3 499.0,661.4 500.8,665.5 C502.6,669.6 504.4,673.7 506.2,677.7 C508.0,681.7 509.8,685.8 511.7,689.7 C513.5,693.6 515.3,697.6 517.1,701.4 C518.9,705.2 521.6,710.6 522.5,712.5" fill="none" stroke="#cf3030" stroke-opacity="1" stroke-width="4.3"/></g>
<g clip-path="url(#ckb)"><g clip-path="url(#ccb)"><path d="M-54.1,615 L175.6,839 M170.3,615 L-59.4,839 M-40.2,615 L189.5,839 M184.2,615 L-45.5,839 M-26.3,615 L203.4,839 M198.1,615 L-31.6,839 M-12.4,615 L217.3,839 M212.0,615 L-17.7,839 M1.5,615 L231.2,839 M225.9,615 L-3.8,839 M15.4,615 L245.1,839 M239.8,615 L10.1,839 M29.3,615 L259.0,839 M253.7,615 L24.0,839 M43.2,615 L272.9,839 M267.6,615 L37.9,839 M57.1,615 L286.8,839 M281.5,615 L51.8,839 M71.0,615 L300.7,839 M295.4,615 L65.7,839 M84.9,615 L314.6,839 M309.3,615 L79.6,839 M98.8,615 L328.5,839 M323.2,615 L93.5,839 M112.7,615 L342.4,839 M337.1,615 L107.4,839 M126.6,615 L356.3,839 M351.0,615 L121.3,839 M140.5,615 L370.2,839 M364.9,615 L135.2,839 M154.4,615 L384.1,839 M378.8,615 L149.1,839 M168.3,615 L398.0,839 M392.7,615 L163.0,839 M182.2,615 L411.9,839 M406.6,615 L176.9,839 M196.1,615 L425.8,839 M420.5,615 L190.8,839 M210.0,615 L439.7,839 M434.4,615 L204.7,839 M223.9,615 L453.6,839 M448.3,615 L218.6,839 M237.8,615 L467.5,839 M462.2,615 L232.5,839 M251.7,615 L481.4,839 M476.1,615 L246.4,839 M265.6,615 L495.3,839 M490.0,615 L260.3,839 M279.5,615 L509.2,839 M503.9,615 L274.2,839 M293.4,615 L523.1,839 M517.8,615 L288.1,839 M307.3,615 L537.0,839 M531.7,615 L302.0,839 M321.2,615 L550.9,839 M545.6,615 L315.9,839 M335.1,615 L564.8,839 M559.5,615 L329.8,839 M349.0,615 L578.7,839 M573.4,615 L343.7,839 M362.9,615 L592.6,839 M587.3,615 L357.6,839 M376.8,615 L606.5,839 M601.2,615 L371.5,839 M390.7,615 L620.4,839 M615.1,615 L385.4,839 M404.6,615 L634.3,839 M629.0,615 L399.3,839 M418.5,615 L648.2,839 M642.9,615 L413.2,839 M432.4,615 L662.1,839 M656.8,615 L427.1,839 M446.3,615 L676.0,839 M670.7,615 L441.0,839 M460.2,615 L689.9,839 M684.6,615 L454.9,839 M474.1,615 L703.8,839 M698.5,615 L468.8,839 M488.0,615 L717.7,839 M712.4,615 L482.7,839 M501.9,615 L731.6,839 M726.3,615 L496.6,839 M515.8,615 L745.5,839 M740.2,615 L510.5,839 M529.7,615 L759.4,839 M754.1,615 L524.4,839 M543.6,615 L773.3,839 M768.0,615 L538.3,839 M557.5,615 L787.2,839 M781.9,615 L552.2,839" fill="none" stroke="#c4b0b0" stroke-opacity="0.08" stroke-width="1.4"/></g></g>
<path d="M310.0,838.0 C310.6,837.9 312.4,837.7 313.6,837.6 C314.8,837.4 316.0,837.2 317.2,837.1 C318.4,836.9 319.6,836.7 320.8,836.5 C322.0,836.3 323.2,836.1 324.4,835.9 C325.6,835.7 326.8,835.5 328.0,835.3 C329.2,835.1 330.4,834.9 331.6,834.6 C332.8,834.4 334.0,834.2 335.2,833.9 C336.4,833.7 337.6,833.5 338.8,833.2 C340.0,833.0 341.2,832.7 342.4,832.4 C343.6,832.1 344.8,831.9 346.0,831.5 C347.2,831.1 348.4,830.7 349.6,830.3 C350.8,829.8 352.0,829.3 353.2,828.6 C354.4,828.0 355.6,827.3 356.8,826.4 C358.0,825.6 359.2,824.6 360.4,823.5 C361.6,822.4 362.8,821.2 364.0,819.9 C365.2,818.7 366.4,817.3 367.6,815.9 C368.8,814.5 370.0,813.0 371.2,811.5 C372.4,810.0 373.6,808.4 374.8,806.9 C376.0,805.3 377.2,803.8 378.4,802.2 C379.6,800.5 380.8,798.9 382.0,797.2 C383.2,795.4 384.4,793.6 385.6,791.8 C386.8,789.9 388.0,787.9 389.2,785.8 C390.4,783.7 391.6,781.5 392.8,779.2 C394.0,776.9 395.2,774.5 396.4,772.0 C397.6,769.4 398.8,766.7 400.0,763.9 C401.2,761.1 402.4,758.1 403.6,755.1 C404.8,752.0 406.0,748.8 407.2,745.4 C408.4,742.1 409.6,738.7 410.8,735.2 C412.0,731.8 413.2,728.2 414.4,724.6 C415.6,721.0 416.9,717.3 418.1,713.7 C419.3,710.0 420.5,706.3 421.7,702.6 C422.9,698.9 424.1,695.2 425.3,691.6 C426.5,687.9 427.7,684.2 428.9,680.6 C430.1,677.0 431.3,673.4 432.5,669.8 C433.7,666.3 434.9,662.8 436.1,659.4 C437.3,655.9 438.5,652.6 439.7,649.3 C440.9,646.0 442.1,642.8 443.3,639.8 C444.5,636.7 445.7,633.7 446.9,630.8 C448.1,627.9 449.3,625.1 450.5,622.5 C451.7,619.8 452.9,617.2 454.1,614.7 C455.3,612.3 456.5,609.9 457.7,607.6 C458.9,605.3 460.1,603.1 461.3,601.0 C462.5,598.9 463.7,597.0 464.9,595.0 C466.1,593.1 467.3,591.3 468.5,589.6 C469.7,587.9 470.9,586.2 472.1,584.7 C473.3,583.1 474.5,581.6 475.7,580.2 C476.9,578.8 478.1,577.5 479.3,576.3 C480.5,575.0 481.7,573.8 482.9,572.7 C484.1,571.6 485.3,570.6 486.5,569.6 C487.7,568.6 488.9,567.7 490.1,566.8 C491.3,566.0 492.5,565.2 493.7,564.4 C494.9,563.7 496.1,563.0 497.3,562.3 C498.5,561.7 499.7,561.1 500.9,560.6 C502.1,560.0 503.3,559.5 504.5,559.1 C505.7,558.6 506.9,558.2 508.1,557.8 C509.3,557.4 510.5,557.1 511.7,556.8 C512.9,556.5 514.1,556.2 515.3,555.9 C516.5,555.7 517.7,555.5 518.9,555.2 C520.1,555.0 521.9,554.8 522.5,554.7 L522.5,838.6 L310.0,838.6 Z" fill="url(#whatch)"/>
<path d="M310.0,838.0 C310.6,837.9 312.4,837.7 313.6,837.6 C314.8,837.4 316.0,837.2 317.2,837.1 C318.4,836.9 319.6,836.7 320.8,836.5 C322.0,836.3 323.2,836.1 324.4,835.9 C325.6,835.7 326.8,835.5 328.0,835.3 C329.2,835.1 330.4,834.9 331.6,834.6 C332.8,834.4 334.0,834.2 335.2,833.9 C336.4,833.7 337.6,833.5 338.8,833.2 C340.0,833.0 341.2,832.7 342.4,832.4 C343.6,832.1 344.8,831.9 346.0,831.5 C347.2,831.1 348.4,830.7 349.6,830.3 C350.8,829.8 352.0,829.3 353.2,828.6 C354.4,828.0 355.6,827.3 356.8,826.4 C358.0,825.6 359.2,824.6 360.4,823.5 C361.6,822.4 362.8,821.2 364.0,819.9 C365.2,818.7 366.4,817.3 367.6,815.9 C368.8,814.5 370.0,813.0 371.2,811.5 C372.4,810.0 373.6,808.4 374.8,806.9 C376.0,805.3 377.2,803.8 378.4,802.2 C379.6,800.5 380.8,798.9 382.0,797.2 C383.2,795.4 384.4,793.6 385.6,791.8 C386.8,789.9 388.0,787.9 389.2,785.8 C390.4,783.7 391.6,781.5 392.8,779.2 C394.0,776.9 395.2,774.5 396.4,772.0 C397.6,769.4 398.8,766.7 400.0,763.9 C401.2,761.1 402.4,758.1 403.6,755.1 C404.8,752.0 406.0,748.8 407.2,745.4 C408.4,742.1 409.6,738.7 410.8,735.2 C412.0,731.8 413.2,728.2 414.4,724.6 C415.6,721.0 416.9,717.3 418.1,713.7 C419.3,710.0 420.5,706.3 421.7,702.6 C422.9,698.9 424.1,695.2 425.3,691.6 C426.5,687.9 427.7,684.2 428.9,680.6 C430.1,677.0 431.3,673.4 432.5,669.8 C433.7,666.3 434.9,662.8 436.1,659.4 C437.3,655.9 438.5,652.6 439.7,649.3 C440.9,646.0 442.1,642.8 443.3,639.8 C444.5,636.7 445.7,633.7 446.9,630.8 C448.1,627.9 449.3,625.1 450.5,622.5 C451.7,619.8 452.9,617.2 454.1,614.7 C455.3,612.3 456.5,609.9 457.7,607.6 C458.9,605.3 460.1,603.1 461.3,601.0 C462.5,598.9 463.7,597.0 464.9,595.0 C466.1,593.1 467.3,591.3 468.5,589.6 C469.7,587.9 470.9,586.2 472.1,584.7 C473.3,583.1 474.5,581.6 475.7,580.2 C476.9,578.8 478.1,577.5 479.3,576.3 C480.5,575.0 481.7,573.8 482.9,572.7 C484.1,571.6 485.3,570.6 486.5,569.6 C487.7,568.6 488.9,567.7 490.1,566.8 C491.3,566.0 492.5,565.2 493.7,564.4 C494.9,563.7 496.1,563.0 497.3,562.3 C498.5,561.7 499.7,561.1 500.9,560.6 C502.1,560.0 503.3,559.5 504.5,559.1 C505.7,558.6 506.9,558.2 508.1,557.8 C509.3,557.4 510.5,557.1 511.7,556.8 C512.9,556.5 514.1,556.2 515.3,555.9 C516.5,555.7 517.7,555.5 518.9,555.2 C520.1,555.0 521.9,554.8 522.5,554.7 L521.7,555.7 L521.7,838.6" fill="none" stroke="#000" stroke-opacity="0.45" stroke-width="4.4" stroke-dasharray="6.5 14.2" stroke-linecap="round"/>
<path d="M94.3,551.2 V838.9 H562" fill="none" stroke="#000" stroke-width="2.2"/>
<path d="M83.5,552.2 H94" stroke="#000" stroke-width="1.9"/>
<path d="M83.5,610.3 H94" stroke="#000" stroke-width="1.9"/>
<path d="M83.5,668.4 H94" stroke="#000" stroke-width="1.9"/>
<path d="M83.5,726.5 H94" stroke="#000" stroke-width="1.9"/>
<path d="M83.5,784.6 H94" stroke="#000" stroke-width="1.9"/>
<path d="M158.6,838.9 V848.9" stroke="#000" stroke-width="1.9"/>
<path d="M288.6,838.9 V848.9" stroke="#000" stroke-width="1.9"/>
<path d="M423.0,838.9 V848.9" stroke="#000" stroke-width="1.9"/>
<text x="43.2" y="558.1" font-size="24.3" textLength="34.0" lengthAdjust="spacingAndGlyphs" >1.0</text>
<text x="43.2" y="616.2" font-size="24.3" textLength="34.0" lengthAdjust="spacingAndGlyphs" >0.8</text>
<text x="43.2" y="674.3" font-size="24.3" textLength="34.0" lengthAdjust="spacingAndGlyphs" >0.6</text>
<text x="43.2" y="732.4" font-size="24.3" textLength="34.0" lengthAdjust="spacingAndGlyphs" >0.4</text>
<text x="43.2" y="790.5" font-size="24.3" textLength="34.0" lengthAdjust="spacingAndGlyphs" >0.2</text>
<text x="82.8" y="22.1" font-size="24.8" textLength="28.2" lengthAdjust="spacingAndGlyphs" >(a)</text>
<text x="80.0" y="523.9" font-size="24.8" textLength="29.8" lengthAdjust="spacingAndGlyphs" >(b)</text>
<text x="140.0" y="75.0" font-size="21.5" textLength="142.0" lengthAdjust="spacingAndGlyphs" >phytoplankton</text>
<text x="414.1" y="81.5" font-size="21.5" textLength="94.8" lengthAdjust="spacingAndGlyphs" >copepods</text>
<text x="288.6" y="157.2" font-size="21.5" textLength="71.2" lengthAdjust="spacingAndGlyphs" >rotifers</text>
<text x="109.2" y="309.6" font-size="21.5" textLength="106.8" lengthAdjust="spacingAndGlyphs" >periphyton</text>
<text x="400.2" y="337.7" font-size="21.5" textLength="115.0" lengthAdjust="spacingAndGlyphs" >cladocerans</text>
<text x="0.0" y="0.0" font-size="25.5" textLength="217.5" lengthAdjust="spacingAndGlyphs" transform="translate(21.8 295) rotate(-90)">Relative abundance</text>
<text x="0.0" y="0.0" font-size="25.5" textLength="217.5" lengthAdjust="spacingAndGlyphs" transform="translate(21.8 794) rotate(-90)">Relative abundance</text>
<text x="206.0" y="865.4" font-size="21.8" textLength="37.4" lengthAdjust="spacingAndGlyphs" >Apr</text>
<text x="331.4" y="865.4" font-size="21.8" textLength="48.8" lengthAdjust="spacingAndGlyphs" >May</text>
<text x="469.8" y="865.3" font-size="21.8" textLength="38.6" lengthAdjust="spacingAndGlyphs" >Jun</text>
<text x="295.6" y="917.0" font-size="23.3" textLength="63.5" lengthAdjust="spacingAndGlyphs" >Dates</text>
<g class="lim">
<text x="119.4" y="394.2" font-size="14.6" textLength="175.0" lengthAdjust="spacingAndGlyphs" fill="#4d4d4d">temperature limitation</text>
<path d="M119,400 H201 L261.5,405.3 L201,410.6 H119 Z" fill="#231f20"/>
<text x="119.2" y="433.0" font-size="14.6" textLength="138.2" lengthAdjust="spacingAndGlyphs" fill="#4d4d4d">nutrient limitation</text>
<path d="M119,437.5 H228 L302,445.3 H434 L453,440.7 H499.7 V451.8 H453 L434,446.9 H302 L228,452.4 H119 Z" fill="#231f20"/>
<text x="119.6" y="471.0" font-size="14.6" textLength="58.4" lengthAdjust="spacingAndGlyphs" fill="#4d4d4d">grazing</text>
<path d="M122,479.3 H376 L453,473.4 H499.7 V486.8 H435 L376,481 H122 Z" fill="#231f20"/>
<text x="119.4" y="947.7" font-size="14.6" textLength="175.0" lengthAdjust="spacingAndGlyphs" fill="#4d4d4d">temperature limitation</text>
<path d="M118.6,955 H132 L191,959.5 L132,964 H118.6 Z" fill="#231f20"/>
<text x="119.2" y="985.3" font-size="14.6" textLength="139.6" lengthAdjust="spacingAndGlyphs" fill="#4d4d4d">nutrient limitation</text>
<path d="M118.6,991.6 H157 L234,997.9 H476 L494,996.8 H505.4 V1000.8 H494 L476,999.6 H234 L157,1005.3 H118.6 Z" fill="#231f20"/>
<text x="119.6" y="1021.8" font-size="14.6" textLength="58.4" lengthAdjust="spacingAndGlyphs" fill="#4d4d4d">grazing</text>
<path d="M122,1031.1 H311 L426,1023 H505.4 V1043.4 H426 L311,1032.8 H122 Z" fill="#231f20"/>
</g>
</svg>
</body></html>
